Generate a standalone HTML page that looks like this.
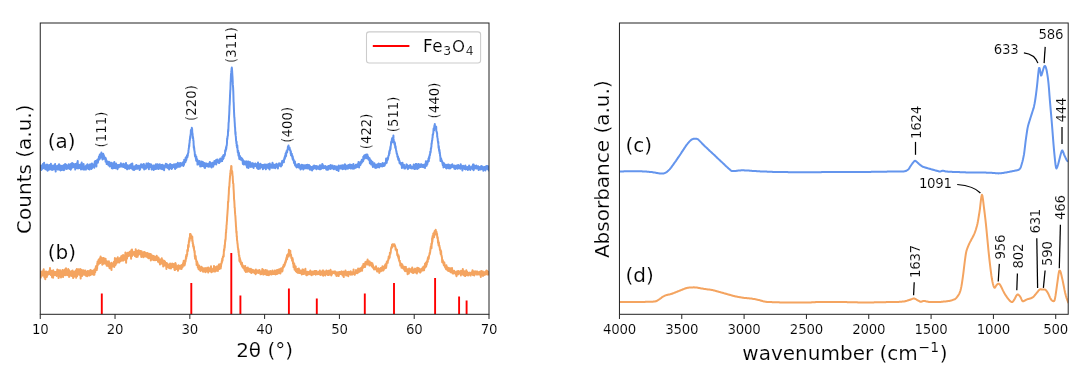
<!DOCTYPE html>
<html><head><meta charset="utf-8"><title>XRD and FTIR</title>
<style>html,body{margin:0;padding:0;background:#fff}svg{display:block}text{stroke:#fff;stroke-width:0.15px;fill:#000}</style></head>
<body>
<svg width="1084" height="371" viewBox="0 0 1084 371" font-family="DejaVu Sans, Liberation Sans, sans-serif">
<rect width="1084" height="371" fill="#fff"/>
<clipPath id="c1"><rect x="40.25" y="23.0" width="448.75" height="291.3"/></clipPath>
<clipPath id="c2"><rect x="619.45" y="23.0" width="448.75" height="291.3"/></clipPath>
<g clip-path="url(#c1)" fill="none" stroke-linejoin="round">
<path d="M40.2,167.3 L40.4,167.9 L40.5,166.8 L40.7,165.7 L40.8,166.5 L41.0,165.5 L41.1,167.5 L41.3,169.9 L41.4,166.5 L41.6,166.3 L41.7,168.3 L41.9,168.1 L42.0,167.6 L42.2,165.7 L42.3,167.4 L42.5,168.7 L42.6,165.0 L42.8,166.6 L42.9,164.0 L43.1,165.1 L43.2,164.1 L43.4,167.0 L43.5,165.1 L43.7,167.9 L43.8,167.7 L44.0,167.1 L44.1,162.8 L44.3,166.4 L44.4,167.3 L44.6,167.6 L44.7,164.6 L44.9,166.5 L45.0,165.6 L45.2,165.9 L45.3,169.3 L45.5,165.9 L45.6,167.3 L45.8,168.9 L45.9,166.2 L46.1,167.1 L46.2,167.5 L46.4,167.4 L46.5,165.0 L46.7,167.4 L46.8,169.7 L47.0,164.4 L47.1,168.8 L47.3,167.4 L47.4,166.0 L47.6,170.8 L47.7,168.6 L47.9,165.0 L48.0,167.3 L48.2,168.2 L48.3,166.8 L48.5,168.4 L48.6,167.0 L48.8,168.4 L48.9,169.7 L49.1,166.0 L49.2,167.5 L49.4,166.3 L49.5,167.4 L49.7,165.0 L49.8,166.1 L50.0,166.8 L50.1,168.8 L50.3,169.2 L50.4,164.8 L50.6,165.8 L50.7,168.4 L50.9,163.7 L51.0,166.4 L51.2,167.1 L51.3,169.5 L51.5,168.5 L51.6,166.7 L51.8,166.6 L51.9,166.8 L52.1,170.0 L52.2,166.6 L52.4,166.8 L52.5,168.0 L52.7,167.1 L52.8,167.0 L53.0,165.4 L53.1,167.4 L53.3,166.6 L53.4,169.5 L53.6,168.6 L53.7,167.4 L53.9,168.6 L54.0,166.9 L54.2,169.3 L54.3,167.5 L54.5,168.5 L54.6,165.3 L54.8,168.2 L54.9,164.6 L55.1,164.0 L55.2,167.1 L55.4,166.0 L55.5,167.9 L55.7,171.6 L55.8,166.2 L56.0,166.6 L56.1,168.0 L56.3,168.6 L56.4,167.4 L56.6,167.4 L56.7,169.0 L56.9,168.7 L57.0,166.0 L57.2,167.6 L57.3,167.9 L57.5,166.0 L57.6,168.3 L57.8,166.4 L57.9,169.6 L58.1,168.2 L58.2,168.1 L58.4,166.9 L58.5,167.7 L58.7,164.5 L58.8,166.0 L59.0,168.6 L59.1,164.3 L59.3,169.4 L59.4,165.0 L59.6,169.3 L59.7,166.6 L59.9,169.4 L60.0,168.2 L60.2,165.4 L60.3,170.2 L60.5,170.5 L60.6,167.9 L60.7,167.5 L60.9,167.7 L61.0,166.3 L61.2,169.9 L61.3,167.0 L61.5,167.9 L61.6,166.6 L61.8,166.8 L61.9,165.7 L62.1,170.0 L62.2,167.6 L62.4,169.5 L62.5,167.8 L62.7,166.6 L62.8,167.1 L63.0,166.7 L63.1,167.6 L63.3,167.0 L63.4,167.0 L63.6,165.2 L63.7,166.1 L63.9,170.2 L64.0,166.2 L64.2,165.5 L64.3,167.9 L64.5,169.6 L64.6,164.7 L64.8,166.8 L64.9,166.0 L65.1,164.1 L65.2,168.3 L65.4,166.9 L65.5,167.1 L65.7,165.6 L65.8,167.6 L66.0,165.9 L66.1,166.6 L66.3,164.9 L66.4,164.7 L66.6,169.0 L66.7,165.9 L66.9,167.2 L67.0,166.6 L67.2,165.9 L67.3,165.8 L67.5,167.7 L67.6,166.1 L67.8,166.4 L67.9,166.6 L68.1,168.6 L68.2,167.7 L68.4,167.2 L68.5,165.6 L68.7,164.3 L68.8,168.2 L69.0,168.2 L69.1,166.3 L69.3,167.5 L69.4,167.9 L69.6,168.0 L69.7,168.1 L69.9,165.8 L70.0,169.1 L70.2,164.5 L70.3,168.0 L70.5,167.4 L70.6,168.0 L70.8,169.7 L70.9,169.1 L71.1,164.7 L71.2,163.8 L71.4,167.9 L71.5,164.9 L71.7,166.6 L71.8,168.0 L72.0,163.8 L72.1,163.1 L72.3,167.0 L72.4,166.6 L72.6,166.1 L72.7,166.6 L72.9,165.1 L73.0,164.0 L73.2,166.2 L73.3,164.9 L73.5,163.8 L73.6,167.3 L73.8,166.3 L73.9,167.1 L74.1,164.8 L74.2,165.3 L74.4,164.8 L74.5,164.9 L74.7,166.7 L74.8,165.1 L75.0,166.9 L75.1,166.9 L75.3,169.6 L75.4,164.0 L75.6,167.8 L75.7,166.1 L75.9,166.3 L76.0,163.9 L76.2,165.5 L76.3,167.5 L76.5,166.1 L76.6,166.4 L76.8,165.8 L76.9,168.1 L77.1,166.2 L77.2,162.7 L77.4,165.1 L77.5,163.1 L77.7,161.0 L77.8,165.4 L78.0,168.4 L78.1,166.4 L78.3,164.4 L78.4,164.8 L78.6,168.1 L78.7,166.6 L78.9,166.4 L79.0,166.3 L79.2,166.4 L79.3,167.7 L79.5,167.3 L79.6,166.8 L79.8,164.7 L79.9,167.3 L80.1,165.4 L80.2,168.2 L80.4,164.4 L80.5,166.3 L80.7,166.5 L80.8,164.4 L81.0,169.4 L81.1,169.0 L81.2,165.9 L81.4,167.9 L81.5,167.3 L81.7,162.5 L81.8,167.1 L82.0,166.6 L82.1,166.9 L82.3,165.1 L82.4,166.4 L82.6,166.5 L82.7,168.8 L82.9,167.4 L83.0,166.9 L83.2,169.4 L83.3,166.0 L83.5,166.3 L83.6,164.1 L83.8,169.5 L83.9,168.5 L84.1,168.5 L84.2,168.1 L84.4,167.2 L84.5,167.4 L84.7,166.6 L84.8,166.7 L85.0,167.1 L85.1,169.4 L85.3,167.9 L85.4,166.9 L85.6,166.1 L85.7,166.0 L85.9,169.6 L86.0,167.8 L86.2,167.1 L86.3,166.4 L86.5,165.2 L86.6,166.8 L86.8,168.3 L86.9,166.3 L87.1,166.5 L87.2,166.5 L87.4,167.0 L87.5,164.3 L87.7,166.4 L87.8,165.4 L88.0,168.1 L88.1,165.5 L88.3,167.5 L88.4,169.0 L88.6,166.1 L88.7,165.6 L88.9,166.8 L89.0,166.5 L89.2,164.9 L89.3,167.1 L89.5,169.5 L89.6,165.9 L89.8,166.0 L89.9,164.6 L90.1,166.7 L90.2,164.2 L90.4,164.4 L90.5,168.1 L90.7,164.6 L90.8,167.7 L91.0,168.4 L91.1,166.3 L91.3,166.8 L91.4,168.9 L91.6,165.5 L91.7,164.9 L91.9,163.6 L92.0,165.8 L92.2,168.0 L92.3,167.1 L92.5,164.1 L92.6,164.2 L92.8,164.7 L92.9,165.9 L93.1,165.1 L93.2,165.7 L93.4,165.7 L93.5,164.7 L93.7,165.1 L93.8,165.4 L94.0,164.9 L94.1,165.7 L94.3,167.7 L94.4,165.7 L94.6,164.7 L94.7,161.9 L94.9,165.0 L95.0,161.3 L95.2,162.0 L95.3,165.4 L95.5,165.0 L95.6,163.6 L95.8,161.0 L95.9,162.9 L96.1,162.3 L96.2,164.1 L96.4,166.4 L96.5,163.1 L96.7,161.4 L96.8,160.5 L97.0,162.0 L97.1,161.6 L97.3,159.9 L97.4,161.6 L97.6,159.4 L97.7,162.7 L97.9,162.3 L98.0,162.1 L98.2,159.5 L98.3,160.7 L98.5,159.4 L98.6,158.8 L98.8,158.6 L98.9,156.8 L99.1,156.3 L99.2,159.5 L99.4,157.7 L99.5,158.1 L99.7,159.0 L99.8,154.6 L100.0,155.8 L100.1,157.0 L100.3,157.2 L100.4,155.8 L100.6,157.7 L100.7,156.3 L100.9,154.0 L101.0,154.3 L101.2,156.8 L101.3,156.2 L101.4,152.5 L101.6,157.4 L101.7,156.3 L101.9,157.4 L102.0,154.8 L102.2,155.0 L102.3,153.8 L102.5,159.4 L102.6,155.4 L102.8,158.2 L102.9,155.0 L103.1,156.4 L103.2,153.8 L103.4,156.0 L103.5,158.2 L103.7,155.1 L103.8,158.8 L104.0,157.9 L104.1,156.1 L104.3,157.2 L104.4,157.5 L104.6,158.4 L104.7,157.9 L104.9,157.7 L105.0,158.8 L105.2,157.9 L105.3,157.8 L105.5,159.9 L105.6,161.6 L105.8,158.2 L105.9,160.7 L106.1,160.0 L106.2,159.8 L106.4,162.7 L106.5,160.9 L106.7,164.1 L106.8,160.9 L107.0,162.9 L107.1,162.1 L107.3,161.5 L107.4,163.7 L107.6,162.8 L107.7,164.1 L107.9,163.3 L108.0,161.9 L108.2,163.5 L108.3,163.9 L108.5,165.3 L108.6,162.7 L108.8,164.1 L108.9,161.7 L109.1,165.3 L109.2,162.8 L109.4,161.9 L109.5,164.5 L109.7,166.4 L109.8,162.5 L110.0,163.2 L110.1,163.8 L110.3,163.3 L110.4,165.6 L110.6,163.9 L110.7,164.1 L110.9,166.1 L111.0,164.1 L111.2,165.9 L111.3,163.9 L111.5,163.6 L111.6,162.7 L111.8,168.2 L111.9,165.0 L112.1,165.9 L112.2,165.5 L112.4,165.8 L112.5,165.7 L112.7,168.5 L112.8,164.2 L113.0,163.4 L113.1,164.3 L113.3,163.8 L113.4,166.9 L113.6,167.1 L113.7,164.5 L113.9,163.9 L114.0,165.4 L114.2,168.0 L114.3,161.9 L114.5,166.8 L114.6,164.5 L114.8,167.6 L114.9,164.6 L115.1,165.8 L115.2,164.0 L115.4,164.8 L115.5,168.3 L115.7,167.5 L115.8,165.7 L116.0,165.1 L116.1,163.6 L116.3,165.8 L116.4,166.4 L116.6,166.3 L116.7,166.3 L116.9,164.8 L117.0,166.4 L117.2,166.5 L117.3,168.4 L117.5,169.3 L117.6,166.3 L117.8,165.4 L117.9,166.5 L118.1,165.7 L118.2,165.5 L118.4,166.5 L118.5,165.0 L118.7,167.4 L118.8,166.4 L119.0,166.9 L119.1,166.3 L119.3,165.5 L119.4,165.1 L119.6,166.1 L119.7,165.7 L119.9,166.8 L120.0,166.4 L120.2,164.4 L120.3,166.5 L120.5,164.4 L120.6,165.5 L120.8,165.9 L120.9,163.3 L121.1,166.4 L121.2,166.5 L121.4,166.1 L121.5,165.7 L121.7,165.7 L121.8,164.8 L121.9,165.8 L122.1,165.4 L122.2,166.3 L122.4,164.5 L122.5,166.5 L122.7,166.4 L122.8,166.0 L123.0,165.6 L123.1,167.0 L123.3,163.8 L123.4,166.9 L123.6,166.6 L123.7,166.7 L123.9,166.8 L124.0,165.3 L124.2,165.9 L124.3,167.2 L124.5,166.9 L124.6,166.7 L124.8,164.2 L124.9,167.2 L125.1,168.1 L125.2,167.9 L125.4,166.8 L125.5,164.3 L125.7,167.9 L125.8,166.4 L126.0,163.0 L126.1,167.2 L126.3,164.5 L126.4,164.8 L126.6,165.8 L126.7,168.6 L126.9,166.3 L127.0,167.2 L127.2,169.3 L127.3,169.1 L127.5,166.7 L127.6,166.6 L127.8,165.2 L127.9,166.0 L128.1,167.6 L128.2,167.6 L128.4,167.2 L128.5,168.5 L128.7,166.0 L128.8,167.0 L129.0,168.2 L129.1,168.0 L129.3,168.7 L129.4,167.7 L129.6,166.7 L129.7,167.7 L129.9,165.8 L130.0,164.9 L130.2,168.0 L130.3,167.2 L130.5,167.7 L130.6,164.8 L130.8,166.7 L130.9,166.4 L131.1,166.0 L131.2,164.1 L131.4,166.8 L131.5,168.5 L131.7,167.8 L131.8,166.4 L132.0,167.2 L132.1,168.3 L132.3,163.4 L132.4,167.1 L132.6,168.0 L132.7,168.2 L132.9,169.6 L133.0,168.8 L133.2,167.7 L133.3,167.7 L133.5,168.4 L133.6,166.5 L133.8,167.2 L133.9,168.5 L134.1,170.0 L134.2,167.0 L134.4,167.2 L134.5,167.5 L134.7,169.1 L134.8,167.2 L135.0,169.3 L135.1,165.9 L135.3,167.0 L135.4,167.0 L135.6,168.4 L135.7,168.7 L135.9,165.2 L136.0,166.0 L136.2,167.7 L136.3,166.4 L136.5,165.1 L136.6,168.7 L136.8,168.0 L136.9,167.9 L137.1,166.6 L137.2,168.7 L137.4,166.9 L137.5,168.7 L137.7,165.9 L137.8,166.0 L138.0,167.4 L138.1,166.1 L138.3,168.0 L138.4,167.4 L138.6,165.8 L138.7,167.1 L138.9,166.5 L139.0,168.2 L139.2,166.0 L139.3,166.3 L139.5,168.5 L139.6,169.9 L139.8,169.6 L139.9,166.8 L140.1,167.0 L140.2,168.8 L140.4,166.5 L140.5,165.2 L140.7,166.7 L140.8,167.1 L141.0,165.3 L141.1,164.2 L141.3,164.4 L141.4,167.3 L141.6,165.3 L141.7,166.1 L141.9,166.6 L142.0,167.1 L142.2,165.8 L142.3,166.9 L142.4,165.0 L142.6,165.7 L142.7,164.7 L142.9,167.7 L143.0,166.1 L143.2,165.1 L143.3,165.6 L143.5,165.8 L143.6,167.0 L143.8,163.9 L143.9,164.6 L144.1,165.5 L144.2,169.5 L144.4,167.4 L144.5,165.9 L144.7,167.0 L144.8,168.9 L145.0,165.7 L145.1,165.6 L145.3,167.7 L145.4,166.8 L145.6,167.0 L145.7,165.4 L145.9,168.8 L146.0,168.5 L146.2,166.9 L146.3,167.1 L146.5,163.4 L146.6,167.1 L146.8,165.9 L146.9,166.8 L147.1,167.2 L147.2,165.8 L147.4,163.9 L147.5,166.8 L147.7,165.3 L147.8,165.9 L148.0,165.5 L148.1,165.9 L148.3,163.2 L148.4,168.1 L148.6,166.8 L148.7,168.0 L148.9,169.2 L149.0,166.5 L149.2,164.0 L149.3,165.3 L149.5,164.9 L149.6,165.9 L149.8,166.7 L149.9,163.9 L150.1,167.1 L150.2,164.6 L150.4,167.1 L150.5,166.5 L150.7,166.3 L150.8,166.6 L151.0,166.0 L151.1,165.9 L151.3,164.5 L151.4,166.7 L151.6,169.3 L151.7,169.5 L151.9,168.6 L152.0,167.8 L152.2,165.9 L152.3,168.8 L152.5,166.8 L152.6,166.8 L152.8,166.5 L152.9,167.0 L153.1,166.3 L153.2,166.8 L153.4,165.4 L153.5,166.4 L153.7,170.0 L153.8,166.8 L154.0,166.6 L154.1,167.6 L154.3,167.9 L154.4,165.4 L154.6,166.6 L154.7,168.2 L154.9,167.3 L155.0,167.1 L155.2,169.0 L155.3,166.0 L155.5,167.0 L155.6,166.2 L155.8,168.9 L155.9,164.3 L156.1,166.0 L156.2,166.2 L156.4,167.8 L156.5,167.8 L156.7,168.8 L156.8,164.8 L157.0,167.9 L157.1,166.5 L157.3,166.0 L157.4,167.7 L157.6,165.7 L157.7,164.2 L157.9,166.4 L158.0,164.9 L158.2,166.1 L158.3,167.5 L158.5,167.4 L158.6,169.1 L158.8,166.7 L158.9,164.9 L159.1,166.0 L159.2,165.7 L159.4,165.3 L159.5,167.6 L159.7,166.1 L159.8,164.3 L160.0,167.9 L160.1,166.9 L160.3,167.5 L160.4,167.2 L160.6,167.9 L160.7,167.1 L160.9,168.7 L161.0,167.6 L161.2,167.6 L161.3,167.6 L161.5,165.1 L161.6,166.8 L161.8,166.7 L161.9,167.3 L162.1,165.2 L162.2,169.2 L162.4,167.2 L162.5,165.4 L162.6,164.7 L162.8,166.6 L162.9,166.9 L163.1,166.0 L163.2,167.1 L163.4,166.1 L163.5,167.7 L163.7,166.0 L163.8,166.8 L164.0,168.2 L164.1,170.3 L164.3,165.5 L164.4,166.2 L164.6,165.7 L164.7,167.8 L164.9,165.2 L165.0,166.1 L165.2,166.7 L165.3,165.4 L165.5,165.4 L165.6,166.0 L165.8,163.8 L165.9,164.7 L166.1,166.0 L166.2,166.7 L166.4,166.3 L166.5,164.1 L166.7,165.9 L166.8,167.5 L167.0,167.2 L167.1,166.3 L167.3,165.2 L167.4,167.2 L167.6,165.6 L167.7,164.8 L167.9,165.3 L168.0,168.2 L168.2,166.6 L168.3,167.8 L168.5,165.6 L168.6,167.5 L168.8,165.5 L168.9,166.0 L169.1,169.5 L169.2,167.2 L169.4,165.5 L169.5,166.1 L169.7,166.6 L169.8,167.8 L170.0,165.5 L170.1,163.9 L170.3,165.8 L170.4,166.2 L170.6,166.3 L170.7,167.9 L170.9,166.6 L171.0,167.2 L171.2,164.7 L171.3,167.3 L171.5,168.9 L171.6,167.2 L171.8,166.5 L171.9,166.3 L172.1,168.5 L172.2,164.9 L172.4,166.0 L172.5,166.7 L172.7,167.1 L172.8,165.5 L173.0,166.5 L173.1,165.7 L173.3,166.2 L173.4,165.9 L173.6,164.6 L173.7,166.0 L173.9,167.2 L174.0,164.8 L174.2,165.7 L174.3,166.9 L174.5,164.6 L174.6,166.2 L174.8,164.6 L174.9,167.4 L175.1,169.0 L175.2,168.6 L175.4,165.6 L175.5,166.9 L175.7,166.0 L175.8,166.0 L176.0,167.9 L176.1,164.1 L176.3,167.2 L176.4,165.7 L176.6,167.6 L176.7,166.0 L176.9,164.9 L177.0,166.1 L177.2,166.6 L177.3,165.7 L177.5,166.3 L177.6,164.9 L177.8,162.8 L177.9,166.7 L178.1,166.4 L178.2,165.7 L178.4,165.5 L178.5,166.7 L178.7,164.8 L178.8,164.4 L179.0,165.0 L179.1,166.8 L179.3,163.4 L179.4,166.7 L179.6,164.2 L179.7,163.6 L179.9,166.6 L180.0,164.8 L180.2,163.1 L180.3,164.3 L180.5,165.9 L180.6,166.2 L180.8,164.0 L180.9,165.0 L181.1,165.3 L181.2,163.5 L181.4,164.7 L181.5,164.1 L181.7,163.4 L181.8,163.4 L182.0,164.0 L182.1,163.9 L182.3,163.0 L182.4,163.1 L182.6,165.0 L182.7,163.7 L182.9,164.5 L183.0,164.8 L183.1,163.9 L183.3,166.0 L183.4,161.8 L183.6,163.8 L183.7,162.2 L183.9,164.9 L184.0,164.6 L184.2,159.7 L184.3,160.8 L184.5,162.8 L184.6,162.8 L184.8,162.6 L184.9,161.3 L185.1,161.8 L185.2,161.9 L185.4,160.7 L185.5,161.9 L185.7,157.4 L185.8,160.9 L186.0,158.5 L186.1,160.7 L186.3,158.9 L186.4,157.7 L186.6,158.9 L186.7,156.9 L186.9,156.5 L187.0,155.2 L187.2,156.7 L187.3,156.8 L187.5,157.0 L187.6,154.9 L187.8,155.8 L187.9,153.7 L188.1,152.9 L188.2,152.9 L188.4,152.7 L188.5,150.0 L188.7,149.2 L188.8,148.2 L189.0,147.5 L189.1,145.0 L189.3,146.3 L189.4,143.2 L189.6,143.0 L189.7,140.0 L189.9,140.1 L190.0,138.7 L190.2,136.3 L190.3,138.1 L190.5,134.7 L190.6,135.2 L190.8,133.1 L190.9,130.1 L191.1,129.8 L191.2,130.3 L191.4,129.5 L191.5,129.5 L191.7,129.3 L191.8,127.8 L192.0,130.5 L192.1,128.8 L192.3,133.1 L192.4,132.9 L192.6,134.2 L192.7,136.2 L192.9,138.2 L193.0,137.5 L193.2,138.5 L193.3,140.7 L193.5,140.8 L193.6,143.5 L193.8,148.0 L193.9,145.9 L194.1,149.2 L194.2,147.7 L194.4,150.8 L194.5,151.0 L194.7,152.2 L194.8,153.8 L195.0,156.1 L195.1,154.9 L195.3,155.5 L195.4,154.7 L195.6,157.3 L195.7,156.8 L195.9,158.7 L196.0,158.1 L196.2,160.8 L196.3,156.5 L196.5,159.0 L196.6,160.9 L196.8,159.7 L196.9,159.4 L197.1,160.4 L197.2,159.3 L197.4,161.4 L197.5,164.6 L197.7,163.2 L197.8,160.6 L198.0,161.1 L198.1,161.9 L198.3,163.8 L198.4,161.7 L198.6,162.0 L198.7,164.2 L198.9,164.3 L199.0,162.8 L199.2,162.0 L199.3,161.6 L199.5,162.7 L199.6,160.9 L199.8,164.7 L199.9,163.1 L200.1,164.6 L200.2,166.4 L200.4,165.6 L200.5,162.7 L200.7,165.3 L200.8,165.7 L201.0,163.3 L201.1,163.1 L201.3,164.2 L201.4,162.4 L201.6,166.3 L201.7,161.4 L201.9,163.1 L202.0,164.1 L202.2,164.2 L202.3,164.7 L202.5,164.9 L202.6,164.3 L202.8,166.0 L202.9,161.9 L203.1,164.6 L203.2,163.7 L203.4,164.8 L203.5,164.9 L203.6,163.5 L203.8,163.8 L203.9,165.7 L204.1,165.1 L204.2,163.8 L204.4,167.3 L204.5,167.6 L204.7,162.9 L204.8,165.1 L205.0,167.9 L205.1,165.8 L205.3,165.1 L205.4,164.6 L205.6,164.2 L205.7,164.6 L205.9,164.2 L206.0,165.9 L206.2,164.4 L206.3,164.4 L206.5,163.5 L206.6,164.9 L206.8,163.9 L206.9,164.8 L207.1,166.3 L207.2,165.5 L207.4,165.7 L207.5,165.5 L207.7,165.1 L207.8,164.9 L208.0,164.7 L208.1,166.0 L208.3,163.7 L208.4,166.7 L208.6,165.1 L208.7,164.1 L208.9,164.4 L209.0,164.2 L209.2,165.2 L209.3,164.1 L209.5,166.4 L209.6,163.9 L209.8,162.0 L209.9,163.9 L210.1,162.3 L210.2,164.7 L210.4,166.0 L210.5,165.5 L210.7,163.0 L210.8,163.6 L211.0,166.8 L211.1,164.9 L211.3,164.4 L211.4,165.7 L211.6,167.4 L211.7,165.9 L211.9,164.4 L212.0,164.6 L212.2,164.9 L212.3,163.3 L212.5,162.7 L212.6,164.0 L212.8,162.7 L212.9,163.7 L213.1,163.9 L213.2,166.6 L213.4,162.6 L213.5,163.4 L213.7,163.3 L213.8,164.0 L214.0,164.7 L214.1,162.7 L214.3,162.2 L214.4,161.1 L214.6,162.0 L214.7,163.7 L214.9,163.0 L215.0,161.7 L215.2,162.4 L215.3,162.8 L215.5,163.4 L215.6,162.0 L215.8,162.3 L215.9,160.3 L216.1,161.1 L216.2,164.5 L216.4,159.7 L216.5,161.9 L216.7,162.6 L216.8,161.8 L217.0,161.2 L217.1,162.1 L217.3,162.1 L217.4,161.9 L217.6,159.6 L217.7,161.7 L217.9,160.8 L218.0,161.1 L218.2,162.0 L218.3,162.5 L218.5,162.7 L218.6,160.9 L218.8,162.6 L218.9,162.9 L219.1,162.8 L219.2,163.0 L219.4,161.0 L219.5,160.9 L219.7,162.1 L219.8,159.3 L220.0,161.1 L220.1,160.1 L220.3,160.2 L220.4,158.4 L220.6,159.3 L220.7,160.3 L220.9,161.3 L221.0,161.3 L221.2,159.8 L221.3,159.6 L221.5,158.6 L221.6,160.0 L221.8,159.0 L221.9,159.9 L222.1,161.1 L222.2,158.7 L222.4,156.7 L222.5,157.3 L222.7,156.4 L222.8,156.5 L223.0,159.3 L223.1,157.7 L223.3,155.3 L223.4,157.7 L223.6,158.2 L223.7,155.8 L223.8,155.1 L224.0,155.2 L224.1,155.6 L224.3,155.7 L224.4,156.0 L224.6,155.6 L224.7,155.1 L224.9,154.9 L225.0,153.5 L225.2,150.3 L225.3,151.4 L225.5,151.4 L225.6,149.9 L225.8,150.8 L225.9,148.6 L226.1,147.1 L226.2,149.2 L226.4,147.4 L226.5,146.0 L226.7,145.9 L226.8,145.0 L227.0,143.0 L227.1,138.4 L227.3,139.4 L227.4,138.3 L227.6,136.2 L227.7,136.1 L227.9,135.7 L228.0,131.9 L228.2,129.2 L228.3,131.1 L228.5,125.9 L228.6,122.7 L228.8,122.0 L228.9,119.7 L229.1,115.6 L229.2,114.5 L229.4,109.9 L229.5,106.2 L229.7,104.3 L229.8,101.6 L230.0,96.4 L230.1,94.0 L230.3,89.9 L230.4,90.0 L230.6,82.2 L230.7,81.6 L230.9,76.8 L231.0,74.1 L231.2,72.9 L231.3,71.3 L231.5,70.5 L231.6,68.7 L231.8,67.6 L231.9,68.2 L232.1,70.6 L232.2,72.4 L232.4,75.5 L232.5,76.9 L232.7,80.7 L232.8,84.4 L233.0,86.1 L233.1,87.6 L233.3,91.5 L233.4,94.8 L233.6,102.0 L233.7,102.4 L233.9,108.3 L234.0,110.7 L234.2,115.1 L234.3,117.2 L234.5,118.6 L234.6,121.0 L234.8,123.8 L234.9,126.3 L235.1,127.6 L235.2,130.2 L235.4,134.1 L235.5,131.9 L235.7,135.9 L235.8,136.1 L236.0,138.9 L236.1,141.0 L236.3,141.2 L236.4,143.5 L236.6,141.7 L236.7,146.1 L236.9,145.0 L237.0,147.4 L237.2,147.8 L237.3,145.2 L237.5,148.2 L237.6,150.1 L237.8,152.5 L237.9,151.6 L238.1,152.2 L238.2,150.7 L238.4,154.7 L238.5,155.7 L238.7,154.0 L238.8,154.2 L239.0,152.9 L239.1,156.4 L239.3,159.0 L239.4,157.0 L239.6,158.0 L239.7,157.5 L239.9,155.9 L240.0,159.1 L240.2,156.3 L240.3,157.8 L240.5,158.7 L240.6,159.6 L240.8,159.3 L240.9,159.5 L241.1,158.4 L241.2,158.0 L241.4,159.8 L241.5,159.1 L241.7,158.6 L241.8,158.8 L242.0,160.0 L242.1,158.5 L242.3,159.3 L242.4,159.1 L242.6,161.5 L242.7,161.9 L242.9,164.0 L243.0,159.9 L243.2,161.0 L243.3,163.1 L243.5,161.9 L243.6,161.9 L243.8,164.5 L243.9,162.1 L244.1,161.3 L244.2,161.2 L244.3,163.3 L244.5,163.4 L244.6,161.5 L244.8,162.1 L244.9,164.0 L245.1,164.1 L245.2,162.8 L245.4,164.4 L245.5,164.4 L245.7,161.6 L245.8,163.5 L246.0,164.4 L246.1,163.3 L246.3,161.5 L246.4,163.8 L246.6,165.1 L246.7,166.1 L246.9,161.6 L247.0,167.5 L247.2,163.0 L247.3,165.6 L247.5,165.9 L247.6,165.6 L247.8,164.7 L247.9,163.1 L248.1,165.3 L248.2,163.7 L248.4,161.5 L248.5,168.0 L248.7,165.4 L248.8,166.8 L249.0,163.5 L249.1,166.4 L249.3,166.5 L249.4,166.5 L249.6,164.6 L249.7,163.2 L249.9,164.4 L250.0,162.0 L250.2,162.6 L250.3,164.8 L250.5,163.5 L250.6,164.5 L250.8,164.6 L250.9,167.0 L251.1,166.3 L251.2,164.7 L251.4,166.2 L251.5,163.8 L251.7,164.4 L251.8,165.9 L252.0,163.3 L252.1,164.5 L252.3,163.3 L252.4,165.0 L252.6,166.8 L252.7,164.0 L252.9,165.2 L253.0,163.9 L253.2,163.6 L253.3,163.5 L253.5,166.8 L253.6,167.9 L253.8,165.7 L253.9,164.3 L254.1,166.0 L254.2,164.8 L254.4,166.2 L254.5,165.6 L254.7,165.7 L254.8,166.1 L255.0,164.7 L255.1,164.9 L255.3,163.4 L255.4,165.0 L255.6,163.8 L255.7,165.4 L255.9,164.4 L256.0,165.7 L256.2,166.2 L256.3,164.0 L256.5,164.7 L256.6,164.6 L256.8,166.6 L256.9,167.8 L257.1,166.8 L257.2,165.4 L257.4,167.6 L257.5,164.0 L257.7,167.6 L257.8,165.1 L258.0,162.6 L258.1,169.1 L258.3,167.8 L258.4,164.7 L258.6,166.1 L258.7,165.7 L258.9,166.1 L259.0,164.2 L259.2,165.1 L259.3,166.5 L259.5,166.2 L259.6,167.4 L259.8,166.1 L259.9,168.8 L260.1,165.1 L260.2,166.3 L260.4,163.7 L260.5,164.5 L260.7,167.6 L260.8,164.9 L261.0,166.6 L261.1,165.9 L261.3,164.8 L261.4,165.6 L261.6,165.4 L261.7,165.4 L261.9,166.9 L262.0,166.8 L262.2,165.3 L262.3,165.0 L262.5,166.4 L262.6,165.9 L262.8,167.3 L262.9,169.2 L263.1,167.1 L263.2,166.0 L263.4,165.9 L263.5,165.1 L263.7,165.0 L263.8,164.9 L264.0,165.6 L264.1,165.6 L264.3,167.0 L264.4,165.6 L264.6,165.9 L264.7,164.6 L264.8,168.0 L265.0,166.7 L265.1,168.2 L265.3,167.0 L265.4,167.8 L265.6,165.8 L265.7,166.9 L265.9,169.3 L266.0,164.6 L266.2,167.4 L266.3,168.0 L266.5,166.5 L266.6,166.9 L266.8,167.5 L266.9,165.2 L267.1,166.5 L267.2,164.9 L267.4,165.1 L267.5,165.2 L267.7,165.8 L267.8,166.1 L268.0,166.5 L268.1,164.2 L268.3,168.3 L268.4,167.3 L268.6,166.7 L268.7,165.4 L268.9,165.7 L269.0,166.5 L269.2,166.3 L269.3,163.8 L269.5,166.7 L269.6,169.4 L269.8,163.6 L269.9,167.0 L270.1,166.3 L270.2,165.7 L270.4,167.5 L270.5,164.4 L270.7,166.0 L270.8,167.6 L271.0,165.6 L271.1,165.3 L271.3,166.0 L271.4,165.3 L271.6,167.7 L271.7,164.8 L271.9,166.9 L272.0,164.4 L272.2,166.7 L272.3,165.8 L272.5,162.8 L272.6,165.9 L272.8,164.6 L272.9,165.4 L273.1,167.8 L273.2,164.5 L273.4,164.6 L273.5,167.7 L273.7,166.0 L273.8,167.8 L274.0,166.3 L274.1,164.8 L274.3,165.8 L274.4,167.4 L274.6,167.0 L274.7,165.9 L274.9,165.9 L275.0,165.7 L275.2,165.2 L275.3,168.2 L275.5,165.9 L275.6,164.5 L275.8,165.3 L275.9,166.8 L276.1,166.6 L276.2,165.7 L276.4,165.1 L276.5,165.9 L276.7,163.8 L276.8,164.3 L277.0,166.8 L277.1,165.3 L277.3,166.3 L277.4,167.3 L277.6,166.6 L277.7,165.8 L277.9,168.4 L278.0,166.6 L278.2,165.3 L278.3,166.6 L278.5,166.2 L278.6,164.7 L278.8,165.8 L278.9,165.5 L279.1,163.2 L279.2,165.4 L279.4,165.2 L279.5,165.0 L279.7,163.5 L279.8,165.0 L280.0,165.3 L280.1,165.4 L280.3,163.8 L280.4,165.9 L280.6,163.6 L280.7,164.7 L280.9,166.4 L281.0,163.9 L281.2,164.0 L281.3,165.8 L281.5,163.9 L281.6,163.8 L281.8,164.3 L281.9,165.1 L282.1,161.0 L282.2,162.4 L282.4,162.0 L282.5,161.7 L282.7,161.7 L282.8,161.5 L283.0,162.6 L283.1,160.9 L283.3,161.8 L283.4,161.8 L283.6,160.1 L283.7,160.8 L283.9,162.2 L284.0,160.3 L284.2,158.7 L284.3,159.0 L284.5,157.6 L284.6,158.5 L284.8,158.8 L284.9,156.3 L285.0,156.6 L285.2,157.7 L285.3,155.2 L285.5,155.6 L285.6,153.6 L285.8,153.3 L285.9,153.2 L286.1,155.9 L286.2,152.3 L286.4,151.7 L286.5,151.2 L286.7,151.1 L286.8,151.6 L287.0,150.7 L287.1,152.4 L287.3,149.9 L287.4,151.0 L287.6,149.3 L287.7,149.4 L287.9,146.7 L288.0,148.1 L288.2,148.0 L288.3,147.7 L288.5,145.4 L288.6,148.9 L288.8,147.5 L288.9,147.5 L289.1,147.9 L289.2,148.1 L289.4,149.1 L289.5,147.4 L289.7,148.2 L289.8,149.9 L290.0,150.2 L290.1,150.0 L290.3,150.2 L290.4,150.3 L290.6,151.7 L290.7,153.7 L290.9,151.5 L291.0,155.1 L291.2,154.8 L291.3,153.8 L291.5,155.7 L291.6,153.6 L291.8,153.8 L291.9,154.8 L292.1,156.3 L292.2,156.9 L292.4,157.2 L292.5,158.3 L292.7,156.2 L292.8,159.7 L293.0,157.9 L293.1,159.2 L293.3,159.9 L293.4,159.4 L293.6,159.5 L293.7,160.3 L293.9,161.8 L294.0,162.8 L294.2,163.1 L294.3,161.6 L294.5,162.1 L294.6,162.2 L294.8,164.0 L294.9,161.4 L295.1,165.4 L295.2,163.6 L295.4,163.5 L295.5,165.0 L295.7,166.0 L295.8,165.3 L296.0,166.3 L296.1,165.4 L296.3,166.8 L296.4,167.0 L296.6,165.5 L296.7,167.4 L296.9,166.0 L297.0,166.1 L297.2,165.0 L297.3,165.8 L297.5,167.1 L297.6,164.8 L297.8,167.1 L297.9,166.8 L298.1,166.8 L298.2,164.0 L298.4,166.5 L298.5,167.4 L298.7,165.8 L298.8,166.8 L299.0,164.0 L299.1,167.5 L299.3,166.0 L299.4,167.8 L299.6,164.7 L299.7,167.6 L299.9,166.6 L300.0,167.8 L300.2,165.8 L300.3,166.1 L300.5,169.5 L300.6,165.9 L300.8,166.0 L300.9,166.5 L301.1,165.7 L301.2,168.2 L301.4,168.8 L301.5,166.0 L301.7,164.8 L301.8,168.2 L302.0,168.1 L302.1,167.7 L302.3,168.1 L302.4,165.8 L302.6,166.6 L302.7,165.2 L302.9,165.1 L303.0,167.9 L303.2,166.0 L303.3,169.4 L303.5,166.8 L303.6,166.0 L303.8,167.7 L303.9,168.8 L304.1,167.3 L304.2,165.3 L304.4,167.2 L304.5,168.3 L304.7,166.2 L304.8,165.9 L305.0,168.0 L305.1,167.0 L305.3,165.5 L305.4,166.4 L305.5,166.0 L305.7,167.2 L305.8,167.0 L306.0,168.2 L306.1,167.8 L306.3,165.1 L306.4,167.5 L306.6,168.1 L306.7,167.6 L306.9,168.3 L307.0,166.5 L307.2,166.0 L307.3,168.2 L307.5,166.0 L307.6,164.7 L307.8,168.5 L307.9,166.5 L308.1,167.0 L308.2,165.7 L308.4,165.9 L308.5,166.1 L308.7,167.0 L308.8,167.9 L309.0,164.9 L309.1,168.4 L309.3,166.2 L309.4,166.4 L309.6,168.4 L309.7,167.6 L309.9,165.9 L310.0,169.8 L310.2,166.7 L310.3,168.0 L310.5,168.0 L310.6,169.4 L310.8,167.3 L310.9,169.0 L311.1,167.0 L311.2,169.1 L311.4,167.0 L311.5,167.4 L311.7,170.0 L311.8,168.2 L312.0,168.0 L312.1,170.5 L312.3,168.3 L312.4,166.9 L312.6,168.7 L312.7,166.5 L312.9,169.2 L313.0,169.2 L313.2,167.2 L313.3,167.1 L313.5,168.0 L313.6,167.8 L313.8,166.7 L313.9,168.4 L314.1,165.4 L314.2,167.2 L314.4,167.3 L314.5,167.4 L314.7,168.0 L314.8,166.2 L315.0,168.3 L315.1,167.4 L315.3,166.8 L315.4,166.0 L315.6,166.2 L315.7,167.9 L315.9,166.4 L316.0,167.6 L316.2,168.7 L316.3,168.6 L316.5,169.2 L316.6,167.0 L316.8,166.1 L316.9,168.5 L317.1,167.7 L317.2,168.6 L317.4,167.3 L317.5,168.6 L317.7,168.2 L317.8,168.0 L318.0,167.7 L318.1,167.6 L318.3,167.4 L318.4,167.3 L318.6,168.2 L318.7,166.4 L318.9,169.0 L319.0,166.8 L319.2,168.1 L319.3,166.8 L319.5,166.6 L319.6,169.2 L319.8,166.5 L319.9,165.3 L320.1,165.9 L320.2,166.4 L320.4,169.2 L320.5,166.9 L320.7,167.8 L320.8,165.5 L321.0,167.1 L321.1,167.4 L321.3,168.7 L321.4,165.8 L321.6,167.3 L321.7,167.0 L321.9,165.4 L322.0,166.6 L322.2,166.3 L322.3,163.9 L322.5,167.3 L322.6,167.2 L322.8,166.1 L322.9,165.1 L323.1,168.3 L323.2,167.0 L323.4,167.8 L323.5,168.3 L323.7,166.1 L323.8,167.7 L324.0,166.5 L324.1,166.7 L324.3,166.7 L324.4,166.8 L324.6,168.1 L324.7,167.0 L324.9,166.7 L325.0,166.6 L325.2,167.3 L325.3,165.9 L325.5,166.4 L325.6,167.0 L325.8,166.4 L325.9,166.9 L326.0,166.4 L326.2,169.4 L326.3,168.7 L326.5,167.7 L326.6,167.1 L326.8,169.7 L326.9,167.6 L327.1,167.1 L327.2,167.6 L327.4,167.6 L327.5,168.9 L327.7,167.3 L327.8,169.7 L328.0,166.3 L328.1,168.1 L328.3,166.2 L328.4,169.4 L328.6,167.0 L328.7,167.3 L328.9,168.4 L329.0,168.8 L329.2,166.1 L329.3,166.9 L329.5,165.7 L329.6,167.5 L329.8,167.2 L329.9,166.9 L330.1,166.5 L330.2,166.9 L330.4,166.5 L330.5,167.9 L330.7,169.0 L330.8,165.1 L331.0,167.2 L331.1,166.8 L331.3,167.9 L331.4,166.2 L331.6,167.1 L331.7,166.1 L331.9,168.1 L332.0,167.4 L332.2,167.2 L332.3,167.8 L332.5,167.1 L332.6,165.6 L332.8,168.1 L332.9,167.7 L333.1,167.3 L333.2,168.6 L333.4,168.9 L333.5,166.2 L333.7,166.6 L333.8,169.3 L334.0,169.2 L334.1,166.7 L334.3,166.3 L334.4,166.9 L334.6,167.1 L334.7,165.9 L334.9,167.7 L335.0,166.3 L335.2,166.4 L335.3,168.8 L335.5,167.0 L335.6,167.7 L335.8,168.6 L335.9,168.8 L336.1,167.5 L336.2,167.9 L336.4,166.9 L336.5,169.9 L336.7,168.6 L336.8,166.6 L337.0,167.9 L337.1,168.7 L337.3,168.5 L337.4,170.0 L337.6,169.5 L337.7,167.3 L337.9,167.8 L338.0,166.4 L338.2,168.2 L338.3,168.0 L338.5,171.0 L338.6,168.0 L338.8,165.4 L338.9,167.0 L339.1,167.9 L339.2,166.3 L339.4,166.8 L339.5,167.3 L339.7,168.1 L339.8,167.5 L340.0,166.6 L340.1,168.5 L340.3,167.0 L340.4,167.0 L340.6,166.0 L340.7,166.6 L340.9,168.3 L341.0,165.6 L341.2,167.4 L341.3,168.3 L341.5,167.0 L341.6,167.7 L341.8,166.1 L341.9,168.8 L342.1,168.6 L342.2,167.6 L342.4,165.3 L342.5,166.1 L342.7,168.4 L342.8,169.2 L343.0,167.5 L343.1,168.6 L343.3,166.5 L343.4,166.9 L343.6,167.1 L343.7,167.6 L343.9,165.3 L344.0,168.1 L344.2,168.6 L344.3,165.7 L344.5,165.5 L344.6,167.4 L344.8,166.2 L344.9,164.2 L345.1,167.9 L345.2,167.1 L345.4,166.4 L345.5,169.3 L345.7,167.0 L345.8,166.0 L346.0,166.9 L346.1,165.6 L346.2,165.9 L346.4,167.2 L346.5,166.1 L346.7,166.2 L346.8,168.6 L347.0,167.7 L347.1,167.6 L347.3,167.3 L347.4,167.2 L347.6,168.3 L347.7,166.6 L347.9,168.7 L348.0,165.5 L348.2,166.2 L348.3,164.9 L348.5,166.1 L348.6,167.1 L348.8,168.1 L348.9,165.7 L349.1,166.4 L349.2,166.0 L349.4,165.5 L349.5,165.0 L349.7,166.4 L349.8,164.4 L350.0,166.5 L350.1,166.4 L350.3,165.6 L350.4,165.2 L350.6,164.7 L350.7,168.4 L350.9,164.8 L351.0,168.1 L351.2,167.0 L351.3,165.9 L351.5,165.0 L351.6,167.5 L351.8,168.3 L351.9,165.3 L352.1,166.0 L352.2,167.5 L352.4,166.7 L352.5,168.6 L352.7,165.7 L352.8,167.0 L353.0,165.0 L353.1,168.8 L353.3,165.6 L353.4,163.9 L353.6,166.3 L353.7,166.3 L353.9,168.6 L354.0,166.1 L354.2,166.4 L354.3,167.1 L354.5,168.3 L354.6,166.4 L354.8,167.6 L354.9,167.0 L355.1,166.1 L355.2,166.5 L355.4,166.4 L355.5,165.4 L355.7,167.8 L355.8,164.8 L356.0,167.6 L356.1,167.4 L356.3,166.1 L356.4,165.3 L356.6,165.9 L356.7,166.6 L356.9,166.9 L357.0,166.3 L357.2,167.1 L357.3,165.2 L357.5,166.1 L357.6,163.9 L357.8,166.5 L357.9,165.7 L358.1,165.0 L358.2,166.7 L358.4,166.0 L358.5,161.9 L358.7,165.0 L358.8,163.2 L359.0,166.0 L359.1,167.5 L359.3,163.9 L359.4,164.4 L359.6,163.9 L359.7,164.4 L359.9,164.6 L360.0,165.2 L360.2,162.4 L360.3,165.1 L360.5,162.1 L360.6,163.3 L360.8,164.1 L360.9,163.4 L361.1,161.3 L361.2,161.4 L361.4,161.4 L361.5,161.7 L361.7,162.8 L361.8,159.8 L362.0,161.6 L362.1,161.5 L362.3,161.2 L362.4,160.8 L362.6,161.8 L362.7,160.4 L362.9,160.5 L363.0,160.0 L363.2,161.1 L363.3,156.7 L363.5,160.0 L363.6,158.1 L363.8,157.8 L363.9,156.8 L364.1,155.6 L364.2,157.0 L364.4,156.5 L364.5,157.6 L364.7,155.2 L364.8,158.4 L365.0,156.9 L365.1,156.2 L365.3,155.5 L365.4,155.3 L365.6,154.9 L365.7,155.5 L365.9,156.0 L366.0,155.8 L366.2,154.4 L366.3,155.7 L366.5,155.0 L366.6,156.3 L366.7,158.3 L366.9,157.0 L367.0,156.0 L367.2,154.6 L367.3,155.0 L367.5,154.9 L367.6,157.8 L367.8,156.3 L367.9,157.4 L368.1,156.8 L368.2,157.8 L368.4,159.5 L368.5,157.4 L368.7,158.0 L368.8,157.7 L369.0,159.9 L369.1,158.0 L369.3,158.1 L369.4,158.1 L369.6,158.3 L369.7,160.7 L369.9,163.3 L370.0,159.5 L370.2,162.0 L370.3,161.5 L370.5,160.2 L370.6,161.3 L370.8,161.6 L370.9,161.3 L371.1,164.5 L371.2,160.4 L371.4,163.2 L371.5,163.4 L371.7,162.5 L371.8,163.6 L372.0,164.6 L372.1,163.9 L372.3,164.4 L372.4,164.9 L372.6,162.0 L372.7,166.1 L372.9,167.1 L373.0,165.8 L373.2,165.9 L373.3,163.3 L373.5,164.9 L373.6,164.2 L373.8,164.6 L373.9,166.4 L374.1,164.5 L374.2,165.3 L374.4,163.3 L374.5,165.4 L374.7,165.7 L374.8,164.8 L375.0,164.9 L375.1,167.8 L375.3,164.4 L375.4,164.5 L375.6,164.8 L375.7,167.1 L375.9,168.1 L376.0,166.1 L376.2,164.9 L376.3,165.2 L376.5,166.9 L376.6,164.7 L376.8,167.3 L376.9,167.3 L377.1,165.7 L377.2,166.3 L377.4,166.4 L377.5,167.3 L377.7,164.3 L377.8,166.8 L378.0,165.0 L378.1,164.6 L378.3,165.5 L378.4,165.1 L378.6,164.2 L378.7,163.5 L378.9,164.2 L379.0,166.9 L379.2,167.5 L379.3,166.0 L379.5,166.6 L379.6,164.6 L379.8,165.1 L379.9,165.5 L380.1,163.9 L380.2,164.0 L380.4,165.2 L380.5,164.8 L380.7,163.9 L380.8,165.5 L381.0,164.8 L381.1,166.2 L381.3,165.1 L381.4,164.7 L381.6,165.2 L381.7,164.9 L381.9,164.3 L382.0,164.6 L382.2,165.9 L382.3,165.7 L382.5,166.4 L382.6,163.1 L382.8,164.5 L382.9,164.5 L383.1,165.1 L383.2,164.4 L383.4,164.2 L383.5,165.7 L383.7,164.9 L383.8,163.4 L384.0,166.1 L384.1,165.7 L384.3,163.8 L384.4,165.3 L384.6,163.5 L384.7,165.5 L384.9,163.8 L385.0,163.0 L385.2,163.4 L385.3,162.8 L385.5,163.7 L385.6,163.5 L385.8,163.2 L385.9,162.3 L386.1,158.6 L386.2,162.6 L386.4,160.0 L386.5,162.2 L386.7,162.9 L386.8,161.6 L387.0,160.5 L387.1,160.4 L387.2,160.0 L387.4,159.2 L387.5,158.7 L387.7,157.8 L387.8,159.7 L388.0,157.9 L388.1,158.5 L388.3,156.5 L388.4,156.3 L388.6,155.5 L388.7,155.6 L388.9,155.3 L389.0,154.0 L389.2,152.3 L389.3,151.5 L389.5,153.5 L389.6,150.6 L389.8,149.9 L389.9,151.1 L390.1,149.9 L390.2,148.6 L390.4,146.8 L390.5,149.1 L390.7,146.2 L390.8,145.6 L391.0,144.1 L391.1,142.0 L391.3,141.5 L391.4,142.8 L391.6,142.2 L391.7,141.0 L391.9,139.4 L392.0,138.7 L392.2,139.6 L392.3,138.0 L392.5,140.4 L392.6,140.5 L392.8,142.3 L392.9,140.0 L393.1,138.4 L393.2,138.2 L393.4,135.5 L393.5,138.9 L393.7,139.7 L393.8,141.4 L394.0,141.4 L394.1,141.8 L394.3,141.9 L394.4,143.0 L394.6,144.5 L394.7,142.3 L394.9,143.6 L395.0,143.3 L395.2,147.3 L395.3,147.7 L395.5,147.8 L395.6,146.3 L395.8,148.6 L395.9,148.9 L396.1,150.0 L396.2,150.4 L396.4,151.9 L396.5,151.5 L396.7,153.6 L396.8,153.6 L397.0,153.7 L397.1,154.5 L397.3,154.7 L397.4,156.8 L397.6,156.1 L397.7,157.3 L397.9,157.1 L398.0,156.4 L398.2,159.5 L398.3,157.8 L398.5,160.2 L398.6,160.3 L398.8,158.4 L398.9,159.6 L399.1,160.5 L399.2,160.5 L399.4,160.4 L399.5,162.9 L399.7,162.1 L399.8,163.0 L400.0,162.4 L400.1,163.5 L400.3,162.5 L400.4,163.5 L400.6,164.4 L400.7,164.0 L400.9,163.6 L401.0,163.1 L401.2,164.7 L401.3,165.0 L401.5,164.5 L401.6,164.0 L401.8,165.6 L401.9,167.9 L402.1,164.9 L402.2,165.7 L402.4,165.9 L402.5,162.7 L402.7,165.8 L402.8,164.9 L403.0,167.4 L403.1,165.6 L403.3,165.1 L403.4,165.8 L403.6,166.3 L403.7,165.5 L403.9,166.1 L404.0,164.7 L404.2,166.0 L404.3,167.2 L404.5,168.6 L404.6,167.2 L404.8,166.8 L404.9,167.8 L405.1,167.7 L405.2,168.4 L405.4,167.8 L405.5,166.5 L405.7,167.0 L405.8,166.9 L406.0,167.1 L406.1,167.0 L406.3,165.9 L406.4,164.4 L406.6,166.1 L406.7,164.6 L406.9,167.0 L407.0,166.9 L407.2,165.0 L407.3,167.7 L407.4,167.9 L407.6,167.1 L407.7,168.9 L407.9,169.1 L408.0,165.7 L408.2,168.2 L408.3,167.6 L408.5,167.5 L408.6,168.1 L408.8,166.3 L408.9,166.4 L409.1,166.2 L409.2,166.3 L409.4,167.0 L409.5,165.5 L409.7,166.0 L409.8,167.8 L410.0,167.1 L410.1,167.6 L410.3,165.0 L410.4,166.3 L410.6,166.5 L410.7,167.2 L410.9,166.5 L411.0,168.2 L411.2,167.1 L411.3,167.2 L411.5,167.1 L411.6,167.9 L411.8,166.6 L411.9,168.4 L412.1,167.6 L412.2,167.2 L412.4,167.1 L412.5,167.6 L412.7,168.2 L412.8,168.1 L413.0,167.4 L413.1,168.0 L413.3,167.1 L413.4,168.3 L413.6,166.9 L413.7,164.6 L413.9,168.4 L414.0,167.0 L414.2,165.5 L414.3,166.6 L414.5,165.8 L414.6,169.1 L414.8,167.3 L414.9,164.9 L415.1,167.3 L415.2,166.2 L415.4,168.8 L415.5,165.4 L415.7,164.1 L415.8,166.6 L416.0,166.1 L416.1,166.0 L416.3,164.1 L416.4,166.9 L416.6,168.3 L416.7,164.2 L416.9,167.7 L417.0,165.7 L417.2,168.9 L417.3,166.8 L417.5,166.0 L417.6,167.5 L417.8,166.8 L417.9,165.5 L418.1,166.9 L418.2,165.5 L418.4,164.1 L418.5,168.3 L418.7,165.7 L418.8,165.3 L419.0,166.4 L419.1,164.2 L419.3,164.4 L419.4,165.4 L419.6,165.3 L419.7,166.0 L419.9,167.1 L420.0,165.3 L420.2,166.4 L420.3,166.5 L420.5,164.6 L420.6,166.1 L420.8,164.7 L420.9,167.0 L421.1,166.3 L421.2,165.8 L421.4,164.2 L421.5,165.9 L421.7,164.9 L421.8,166.5 L422.0,165.6 L422.1,164.8 L422.3,166.7 L422.4,166.5 L422.6,165.0 L422.7,167.0 L422.9,165.3 L423.0,165.3 L423.2,165.7 L423.3,164.8 L423.5,165.1 L423.6,165.4 L423.8,167.2 L423.9,167.2 L424.1,165.2 L424.2,167.2 L424.4,165.3 L424.5,165.8 L424.7,166.3 L424.8,165.6 L425.0,167.9 L425.1,165.4 L425.3,163.7 L425.4,166.4 L425.6,164.4 L425.7,164.4 L425.9,161.3 L426.0,165.7 L426.2,165.3 L426.3,165.2 L426.5,165.2 L426.6,165.8 L426.8,163.7 L426.9,164.6 L427.1,162.5 L427.2,162.8 L427.4,164.1 L427.5,163.1 L427.7,160.9 L427.8,162.5 L427.9,161.5 L428.1,160.5 L428.2,161.5 L428.4,160.2 L428.5,158.4 L428.7,158.5 L428.8,161.2 L429.0,157.0 L429.1,158.4 L429.3,158.3 L429.4,157.7 L429.6,155.0 L429.7,155.3 L429.9,155.1 L430.0,155.1 L430.2,152.7 L430.3,151.4 L430.5,152.9 L430.6,152.2 L430.8,150.4 L430.9,148.4 L431.1,148.6 L431.2,147.2 L431.4,147.0 L431.5,143.6 L431.7,144.1 L431.8,142.7 L432.0,140.5 L432.1,140.9 L432.3,139.6 L432.4,138.0 L432.6,137.8 L432.7,134.6 L432.9,135.1 L433.0,134.6 L433.2,133.3 L433.3,133.2 L433.5,129.7 L433.6,128.5 L433.8,129.6 L433.9,129.0 L434.1,130.2 L434.2,127.9 L434.4,125.7 L434.5,127.1 L434.7,124.9 L434.8,124.0 L435.0,128.4 L435.1,125.8 L435.3,126.4 L435.4,126.4 L435.6,128.1 L435.7,126.8 L435.9,128.4 L436.0,126.5 L436.2,126.8 L436.3,130.7 L436.5,131.6 L436.6,131.5 L436.8,132.1 L436.9,133.1 L437.1,133.2 L437.2,136.8 L437.4,136.9 L437.5,137.9 L437.7,138.9 L437.8,140.9 L438.0,141.4 L438.1,142.9 L438.3,141.9 L438.4,144.9 L438.6,147.9 L438.7,146.0 L438.9,147.5 L439.0,149.7 L439.2,150.8 L439.3,151.4 L439.5,149.9 L439.6,153.2 L439.8,152.2 L439.9,153.4 L440.1,155.8 L440.2,155.6 L440.4,157.6 L440.5,160.9 L440.7,158.9 L440.8,159.5 L441.0,158.3 L441.1,159.1 L441.3,159.2 L441.4,160.3 L441.6,160.1 L441.7,161.0 L441.9,161.9 L442.0,161.4 L442.2,161.2 L442.3,161.6 L442.5,163.9 L442.6,163.8 L442.8,165.1 L442.9,165.3 L443.1,164.0 L443.2,165.3 L443.4,163.1 L443.5,167.4 L443.7,166.4 L443.8,164.9 L444.0,164.0 L444.1,165.8 L444.3,163.4 L444.4,164.7 L444.6,166.5 L444.7,165.8 L444.9,165.2 L445.0,166.9 L445.2,164.7 L445.3,166.3 L445.5,165.4 L445.6,165.1 L445.8,166.6 L445.9,165.0 L446.1,168.3 L446.2,165.5 L446.4,168.4 L446.5,165.0 L446.7,167.0 L446.8,165.0 L447.0,164.8 L447.1,166.5 L447.3,167.1 L447.4,165.0 L447.6,167.7 L447.7,165.6 L447.9,166.6 L448.0,166.9 L448.2,167.2 L448.3,164.5 L448.4,168.3 L448.6,167.2 L448.7,166.1 L448.9,165.4 L449.0,164.7 L449.2,165.1 L449.3,167.2 L449.5,166.3 L449.6,165.4 L449.8,166.1 L449.9,168.4 L450.1,166.3 L450.2,166.0 L450.4,168.2 L450.5,167.2 L450.7,166.7 L450.8,166.0 L451.0,165.0 L451.1,165.4 L451.3,166.2 L451.4,166.5 L451.6,167.1 L451.7,167.3 L451.9,167.0 L452.0,167.0 L452.2,165.6 L452.3,164.3 L452.5,166.1 L452.6,165.7 L452.8,166.0 L452.9,166.4 L453.1,165.4 L453.2,165.5 L453.4,166.6 L453.5,166.9 L453.7,166.0 L453.8,167.3 L454.0,166.5 L454.1,165.6 L454.3,166.8 L454.4,168.8 L454.6,166.0 L454.7,168.0 L454.9,168.3 L455.0,168.4 L455.2,165.8 L455.3,169.0 L455.5,166.9 L455.6,166.5 L455.8,166.5 L455.9,167.4 L456.1,166.8 L456.2,166.5 L456.4,168.2 L456.5,165.9 L456.7,165.6 L456.8,167.6 L457.0,167.5 L457.1,168.0 L457.3,165.5 L457.4,167.9 L457.6,167.3 L457.7,168.7 L457.9,165.4 L458.0,167.0 L458.2,166.5 L458.3,165.0 L458.5,166.0 L458.6,168.1 L458.8,166.3 L458.9,166.0 L459.1,167.8 L459.2,168.0 L459.4,168.0 L459.5,166.0 L459.7,166.8 L459.8,168.1 L460.0,166.2 L460.1,166.1 L460.3,167.9 L460.4,168.8 L460.6,165.8 L460.7,164.2 L460.9,165.5 L461.0,166.0 L461.2,167.0 L461.3,167.9 L461.5,167.1 L461.6,166.5 L461.8,167.4 L461.9,166.2 L462.1,167.3 L462.2,166.6 L462.4,170.4 L462.5,168.3 L462.7,166.5 L462.8,166.4 L463.0,167.0 L463.1,165.7 L463.3,166.7 L463.4,166.8 L463.6,168.6 L463.7,167.2 L463.9,166.8 L464.0,166.2 L464.2,166.4 L464.3,167.6 L464.5,167.5 L464.6,169.0 L464.8,167.1 L464.9,169.0 L465.1,168.1 L465.2,167.8 L465.4,165.6 L465.5,166.4 L465.7,168.7 L465.8,169.4 L466.0,168.1 L466.1,168.7 L466.3,167.5 L466.4,167.5 L466.6,167.2 L466.7,169.0 L466.9,168.3 L467.0,167.7 L467.2,167.6 L467.3,168.6 L467.5,168.3 L467.6,167.1 L467.8,169.9 L467.9,168.3 L468.1,168.0 L468.2,169.6 L468.4,169.1 L468.5,167.9 L468.6,168.6 L468.8,166.8 L468.9,167.3 L469.1,165.5 L469.2,169.3 L469.4,165.9 L469.5,168.7 L469.7,167.0 L469.8,166.9 L470.0,167.7 L470.1,168.2 L470.3,168.6 L470.4,169.9 L470.6,168.3 L470.7,168.8 L470.9,167.2 L471.0,168.6 L471.2,168.0 L471.3,167.3 L471.5,167.7 L471.6,167.7 L471.8,167.9 L471.9,168.1 L472.1,167.1 L472.2,166.8 L472.4,168.4 L472.5,165.7 L472.7,166.9 L472.8,169.2 L473.0,164.5 L473.1,166.7 L473.3,168.2 L473.4,165.6 L473.6,170.3 L473.7,164.5 L473.9,168.9 L474.0,169.1 L474.2,168.3 L474.3,167.0 L474.5,167.7 L474.6,166.3 L474.8,168.1 L474.9,166.0 L475.1,166.9 L475.2,168.3 L475.4,166.0 L475.5,166.8 L475.7,167.4 L475.8,165.7 L476.0,168.5 L476.1,167.6 L476.3,165.5 L476.4,167.2 L476.6,166.4 L476.7,166.5 L476.9,167.3 L477.0,166.5 L477.2,168.4 L477.3,166.5 L477.5,168.4 L477.6,167.3 L477.8,168.4 L477.9,166.8 L478.1,166.9 L478.2,166.2 L478.4,168.2 L478.5,168.6 L478.7,170.0 L478.8,169.1 L479.0,167.9 L479.1,167.5 L479.3,168.2 L479.4,167.8 L479.6,169.4 L479.7,168.9 L479.9,167.0 L480.0,167.2 L480.2,169.5 L480.3,168.3 L480.5,167.8 L480.6,169.4 L480.8,167.7 L480.9,167.8 L481.1,167.7 L481.2,166.0 L481.4,169.2 L481.5,166.9 L481.7,167.7 L481.8,167.5 L482.0,169.1 L482.1,168.3 L482.3,168.4 L482.4,166.5 L482.6,168.3 L482.7,166.8 L482.9,168.8 L483.0,168.9 L483.2,168.5 L483.3,170.7 L483.5,169.1 L483.6,169.2 L483.8,168.7 L483.9,168.3 L484.1,169.6 L484.2,169.7 L484.4,167.1 L484.5,169.7 L484.7,169.1 L484.8,169.6 L485.0,169.0 L485.1,167.1 L485.3,167.2 L485.4,170.5 L485.6,168.7 L485.7,166.9 L485.9,168.8 L486.0,168.0 L486.2,166.4 L486.3,165.9 L486.5,166.6 L486.6,168.7 L486.8,168.3 L486.9,168.1 L487.1,168.7 L487.2,169.0 L487.4,166.0 L487.5,168.0 L487.7,167.4 L487.8,166.9 L488.0,167.6 L488.1,168.1 L488.3,167.9 L488.4,166.6 L488.6,167.6 L488.7,170.4 L488.9,167.0 L489.0,166.3" stroke="#6495ed" stroke-width="2.0"/>
<path d="M40.2,275.2 L40.4,272.0 L40.5,274.4 L40.7,273.0 L40.8,277.6 L41.0,273.6 L41.1,271.5 L41.3,271.7 L41.4,272.1 L41.6,274.1 L41.7,273.9 L41.9,275.8 L42.0,274.3 L42.2,274.2 L42.3,274.6 L42.5,273.7 L42.6,274.6 L42.8,275.6 L42.9,275.6 L43.1,273.0 L43.2,270.6 L43.4,272.5 L43.5,274.6 L43.7,269.2 L43.8,273.1 L44.0,274.9 L44.1,273.0 L44.3,271.9 L44.4,277.5 L44.6,276.8 L44.7,273.6 L44.9,276.6 L45.0,276.6 L45.2,271.8 L45.3,279.3 L45.5,272.2 L45.6,273.5 L45.8,271.9 L45.9,274.1 L46.1,271.4 L46.2,273.9 L46.4,276.0 L46.5,274.3 L46.7,273.4 L46.8,276.9 L47.0,272.1 L47.1,275.8 L47.3,273.3 L47.4,274.3 L47.6,273.9 L47.7,274.1 L47.9,273.7 L48.0,272.3 L48.2,272.7 L48.3,274.6 L48.5,273.5 L48.6,271.5 L48.8,272.4 L48.9,272.4 L49.1,273.6 L49.2,274.0 L49.4,273.9 L49.5,272.4 L49.7,273.7 L49.8,271.0 L50.0,268.1 L50.1,273.6 L50.3,270.5 L50.4,271.8 L50.6,271.3 L50.7,274.9 L50.9,271.3 L51.0,274.2 L51.2,272.8 L51.3,271.3 L51.5,270.7 L51.6,274.6 L51.8,274.5 L51.9,275.3 L52.1,277.3 L52.2,274.3 L52.4,274.3 L52.5,273.6 L52.7,274.0 L52.8,273.2 L53.0,272.1 L53.1,277.8 L53.3,270.3 L53.4,274.4 L53.6,274.8 L53.7,274.2 L53.9,272.1 L54.0,273.6 L54.2,273.1 L54.3,271.9 L54.5,273.9 L54.6,273.2 L54.8,272.9 L54.9,275.3 L55.1,271.9 L55.2,274.8 L55.4,272.8 L55.5,274.8 L55.7,274.1 L55.8,274.4 L56.0,272.0 L56.1,272.4 L56.3,272.2 L56.4,274.2 L56.6,275.3 L56.7,275.9 L56.9,272.9 L57.0,274.0 L57.2,270.7 L57.3,269.5 L57.5,272.1 L57.6,272.4 L57.8,270.7 L57.9,270.2 L58.1,274.7 L58.2,272.1 L58.4,270.3 L58.5,278.1 L58.7,273.9 L58.8,272.9 L59.0,274.8 L59.1,272.0 L59.3,276.5 L59.4,270.4 L59.6,270.9 L59.7,273.1 L59.9,271.9 L60.0,276.1 L60.2,270.2 L60.3,271.9 L60.5,273.7 L60.6,274.3 L60.7,275.2 L60.9,273.9 L61.0,277.5 L61.2,272.3 L61.3,273.5 L61.5,274.8 L61.6,272.5 L61.8,272.6 L61.9,272.2 L62.1,271.9 L62.2,270.9 L62.4,272.0 L62.5,270.1 L62.7,273.8 L62.8,270.0 L63.0,277.0 L63.1,276.3 L63.3,275.1 L63.4,272.6 L63.6,271.9 L63.7,275.3 L63.9,273.3 L64.0,274.0 L64.2,271.6 L64.3,275.0 L64.5,271.4 L64.6,273.1 L64.8,269.6 L64.9,271.7 L65.1,273.9 L65.2,272.1 L65.4,272.1 L65.5,274.5 L65.7,272.8 L65.8,275.3 L66.0,268.3 L66.1,274.1 L66.3,274.0 L66.4,270.0 L66.6,270.5 L66.7,274.7 L66.9,271.0 L67.0,271.8 L67.2,274.2 L67.3,272.4 L67.5,274.0 L67.6,271.5 L67.8,273.7 L67.9,275.2 L68.1,273.8 L68.2,269.0 L68.4,274.5 L68.5,273.4 L68.7,271.6 L68.8,276.0 L69.0,270.0 L69.1,277.0 L69.3,272.2 L69.4,276.4 L69.6,273.4 L69.7,270.9 L69.9,273.7 L70.0,274.2 L70.2,274.6 L70.3,275.6 L70.5,271.9 L70.6,274.5 L70.8,275.0 L70.9,273.1 L71.1,271.9 L71.2,271.8 L71.4,275.1 L71.5,275.2 L71.7,272.1 L71.8,271.2 L72.0,276.1 L72.1,270.8 L72.3,274.1 L72.4,272.2 L72.6,270.4 L72.7,274.0 L72.9,273.4 L73.0,276.5 L73.2,278.1 L73.3,273.4 L73.5,275.7 L73.6,275.7 L73.8,272.7 L73.9,272.0 L74.1,276.8 L74.2,273.0 L74.4,273.6 L74.5,273.1 L74.7,273.4 L74.8,272.4 L75.0,275.0 L75.1,275.9 L75.3,272.8 L75.4,270.9 L75.6,273.6 L75.7,270.6 L75.9,272.2 L76.0,275.7 L76.2,277.8 L76.3,274.1 L76.5,271.3 L76.6,274.8 L76.8,269.0 L76.9,271.9 L77.1,276.1 L77.2,274.6 L77.4,270.5 L77.5,270.0 L77.7,274.7 L77.8,273.0 L78.0,271.9 L78.1,273.8 L78.3,271.9 L78.4,269.3 L78.6,274.5 L78.7,271.7 L78.9,271.0 L79.0,270.4 L79.2,273.4 L79.3,271.4 L79.5,274.1 L79.6,272.3 L79.8,274.9 L79.9,272.1 L80.1,271.6 L80.2,269.1 L80.4,270.7 L80.5,274.2 L80.7,278.6 L80.8,270.4 L81.0,270.8 L81.1,273.4 L81.2,273.7 L81.4,271.5 L81.5,272.9 L81.7,269.7 L81.8,272.2 L82.0,274.5 L82.1,275.9 L82.3,272.5 L82.4,272.3 L82.6,273.6 L82.7,274.9 L82.9,273.7 L83.0,271.4 L83.2,273.5 L83.3,274.6 L83.5,271.5 L83.6,270.3 L83.8,273.8 L83.9,273.5 L84.1,274.7 L84.2,273.0 L84.4,271.6 L84.5,272.0 L84.7,270.9 L84.8,271.1 L85.0,271.8 L85.1,272.0 L85.3,275.0 L85.4,270.6 L85.6,272.8 L85.7,271.8 L85.9,275.7 L86.0,273.4 L86.2,272.2 L86.3,274.5 L86.5,273.1 L86.6,272.1 L86.8,275.9 L86.9,274.3 L87.1,276.2 L87.2,275.2 L87.4,274.5 L87.5,273.3 L87.7,271.0 L87.8,274.4 L88.0,273.2 L88.1,274.3 L88.3,273.0 L88.4,271.8 L88.6,271.2 L88.7,274.4 L88.9,275.5 L89.0,272.5 L89.2,273.9 L89.3,275.6 L89.5,271.5 L89.6,272.4 L89.8,270.9 L89.9,275.2 L90.1,273.5 L90.2,272.2 L90.4,269.9 L90.5,272.7 L90.7,274.9 L90.8,272.4 L91.0,272.2 L91.1,274.1 L91.3,270.6 L91.4,273.0 L91.6,274.0 L91.7,271.4 L91.9,271.3 L92.0,273.2 L92.2,272.6 L92.3,272.3 L92.5,273.1 L92.6,273.0 L92.8,270.8 L92.9,271.3 L93.1,273.3 L93.2,274.5 L93.4,274.8 L93.5,270.6 L93.7,274.2 L93.8,273.4 L94.0,271.9 L94.1,272.7 L94.3,273.2 L94.4,274.8 L94.6,269.3 L94.7,272.2 L94.9,270.6 L95.0,270.3 L95.2,272.5 L95.3,271.7 L95.5,268.0 L95.6,269.0 L95.8,269.6 L95.9,266.2 L96.1,270.1 L96.2,267.9 L96.4,268.0 L96.5,267.8 L96.7,270.1 L96.8,266.4 L97.0,265.2 L97.1,268.6 L97.3,264.0 L97.4,263.5 L97.6,261.4 L97.7,265.5 L97.9,263.6 L98.0,263.6 L98.2,262.6 L98.3,261.7 L98.5,260.2 L98.6,259.9 L98.8,261.9 L98.9,261.1 L99.1,263.8 L99.2,259.2 L99.4,259.7 L99.5,258.7 L99.7,263.0 L99.8,258.2 L100.0,261.9 L100.1,263.1 L100.3,260.2 L100.4,261.8 L100.6,256.5 L100.7,259.7 L100.9,257.4 L101.0,260.8 L101.2,260.5 L101.3,259.1 L101.4,262.3 L101.6,261.2 L101.7,259.7 L101.9,259.7 L102.0,258.0 L102.2,260.4 L102.3,264.7 L102.5,259.6 L102.6,261.8 L102.8,260.1 L102.9,262.6 L103.1,262.0 L103.2,260.9 L103.4,258.1 L103.5,260.6 L103.7,263.8 L103.8,261.2 L104.0,262.9 L104.1,261.0 L104.3,258.6 L104.4,262.9 L104.6,262.8 L104.7,261.3 L104.9,261.8 L105.0,263.1 L105.2,261.6 L105.3,263.4 L105.5,262.5 L105.6,258.7 L105.8,262.9 L105.9,262.2 L106.1,261.8 L106.2,264.2 L106.4,262.7 L106.5,264.7 L106.7,265.8 L106.8,264.2 L107.0,261.2 L107.1,262.8 L107.3,265.8 L107.4,263.8 L107.6,262.9 L107.7,264.3 L107.9,265.4 L108.0,265.1 L108.2,265.9 L108.3,263.3 L108.5,264.3 L108.6,264.4 L108.8,264.9 L108.9,261.2 L109.1,264.6 L109.2,262.7 L109.4,267.6 L109.5,268.0 L109.7,268.2 L109.8,266.7 L110.0,264.3 L110.1,267.0 L110.3,264.9 L110.4,266.3 L110.6,263.6 L110.7,264.2 L110.9,266.1 L111.0,268.4 L111.2,265.1 L111.3,269.2 L111.5,270.1 L111.6,262.8 L111.8,265.0 L111.9,263.3 L112.1,264.7 L112.2,263.9 L112.4,264.7 L112.5,266.5 L112.7,266.4 L112.8,265.1 L113.0,264.6 L113.1,264.7 L113.3,264.6 L113.4,265.4 L113.6,264.3 L113.7,265.1 L113.9,261.7 L114.0,265.4 L114.2,267.0 L114.3,264.1 L114.5,261.2 L114.6,266.0 L114.8,262.9 L114.9,258.0 L115.1,262.9 L115.2,264.3 L115.4,263.8 L115.5,265.2 L115.7,264.0 L115.8,263.0 L116.0,259.1 L116.1,260.5 L116.3,262.7 L116.4,263.5 L116.6,260.4 L116.7,261.0 L116.9,262.8 L117.0,258.4 L117.2,258.3 L117.3,261.2 L117.5,262.0 L117.6,260.5 L117.8,257.2 L117.9,261.2 L118.1,258.7 L118.2,262.1 L118.4,260.6 L118.5,261.2 L118.7,261.7 L118.8,259.6 L119.0,261.8 L119.1,262.5 L119.3,260.9 L119.4,262.4 L119.6,258.8 L119.7,261.4 L119.9,260.2 L120.0,257.9 L120.2,259.4 L120.3,258.4 L120.5,258.3 L120.6,259.3 L120.8,261.0 L120.9,258.4 L121.1,259.1 L121.2,256.2 L121.4,258.9 L121.5,260.6 L121.7,259.9 L121.8,259.2 L121.9,257.3 L122.1,256.5 L122.2,257.9 L122.4,255.6 L122.5,255.7 L122.7,259.5 L122.8,256.1 L123.0,260.8 L123.1,255.0 L123.3,258.2 L123.4,255.3 L123.6,257.6 L123.7,255.4 L123.9,257.2 L124.0,256.8 L124.2,256.2 L124.3,257.8 L124.5,259.5 L124.6,255.7 L124.8,258.3 L124.9,256.8 L125.1,256.5 L125.2,260.3 L125.4,252.6 L125.5,255.1 L125.7,253.1 L125.8,255.6 L126.0,255.7 L126.1,262.7 L126.3,256.6 L126.4,259.1 L126.6,258.1 L126.7,255.0 L126.9,256.5 L127.0,258.6 L127.2,255.9 L127.3,255.9 L127.5,256.3 L127.6,252.7 L127.8,253.9 L127.9,255.8 L128.1,256.1 L128.2,253.5 L128.4,254.5 L128.5,254.8 L128.7,254.6 L128.8,256.1 L129.0,255.0 L129.1,255.0 L129.3,252.2 L129.4,252.8 L129.6,255.1 L129.7,251.7 L129.9,254.9 L130.0,253.2 L130.2,252.9 L130.3,255.4 L130.5,253.0 L130.6,252.6 L130.8,252.9 L130.9,254.1 L131.1,258.8 L131.2,250.2 L131.4,253.8 L131.5,253.4 L131.7,255.4 L131.8,253.1 L132.0,249.4 L132.1,255.9 L132.3,251.7 L132.4,253.5 L132.6,251.2 L132.7,251.6 L132.9,252.6 L133.0,254.9 L133.2,254.8 L133.3,252.3 L133.5,254.2 L133.6,252.6 L133.8,253.5 L133.9,253.5 L134.1,254.3 L134.2,252.1 L134.4,252.9 L134.5,253.5 L134.7,253.3 L134.8,251.7 L135.0,256.1 L135.1,252.3 L135.3,254.4 L135.4,253.4 L135.6,255.2 L135.7,249.3 L135.9,256.6 L136.0,252.7 L136.2,250.9 L136.3,253.3 L136.5,256.9 L136.6,253.9 L136.8,250.9 L136.9,252.3 L137.1,255.4 L137.2,250.7 L137.4,252.8 L137.5,252.6 L137.7,256.8 L137.8,252.6 L138.0,255.4 L138.1,252.0 L138.3,251.8 L138.4,254.9 L138.6,254.2 L138.7,250.2 L138.9,254.3 L139.0,254.3 L139.2,252.2 L139.3,253.6 L139.5,253.7 L139.6,252.5 L139.8,252.3 L139.9,252.2 L140.1,252.9 L140.2,251.1 L140.4,253.3 L140.5,250.9 L140.7,253.6 L140.8,253.3 L141.0,251.8 L141.1,255.0 L141.3,256.9 L141.4,255.9 L141.6,251.3 L141.7,255.8 L141.9,254.0 L142.0,253.6 L142.2,252.7 L142.3,253.8 L142.4,256.2 L142.6,254.8 L142.7,253.2 L142.9,252.8 L143.0,253.2 L143.2,255.0 L143.3,257.2 L143.5,252.2 L143.6,254.1 L143.8,253.5 L143.9,252.9 L144.1,254.9 L144.2,255.2 L144.4,251.9 L144.5,252.6 L144.7,256.4 L144.8,254.9 L145.0,255.3 L145.1,253.6 L145.3,253.9 L145.4,255.4 L145.6,253.8 L145.7,252.8 L145.9,254.7 L146.0,256.3 L146.2,253.1 L146.3,256.7 L146.5,256.1 L146.6,253.5 L146.8,255.1 L146.9,255.0 L147.1,256.2 L147.2,256.3 L147.4,253.1 L147.5,253.1 L147.7,257.1 L147.8,255.6 L148.0,256.2 L148.1,256.1 L148.3,258.2 L148.4,253.7 L148.6,257.6 L148.7,254.4 L148.9,257.1 L149.0,258.2 L149.2,253.7 L149.3,256.7 L149.5,255.6 L149.6,255.7 L149.8,256.3 L149.9,254.5 L150.1,254.7 L150.2,257.5 L150.4,257.8 L150.5,255.5 L150.7,254.1 L150.8,260.4 L151.0,258.5 L151.1,257.3 L151.3,255.1 L151.4,255.8 L151.6,257.3 L151.7,255.3 L151.9,259.6 L152.0,257.2 L152.2,257.7 L152.3,255.4 L152.5,255.7 L152.6,255.9 L152.8,257.7 L152.9,256.9 L153.1,256.9 L153.2,258.0 L153.4,257.9 L153.5,260.0 L153.7,257.3 L153.8,256.0 L154.0,257.7 L154.1,260.2 L154.3,256.9 L154.4,257.9 L154.6,257.3 L154.7,258.6 L154.9,258.5 L155.0,256.8 L155.2,257.8 L155.3,259.7 L155.5,260.1 L155.6,259.8 L155.8,259.8 L155.9,257.9 L156.1,257.9 L156.2,260.1 L156.4,256.7 L156.5,258.6 L156.7,255.7 L156.8,258.2 L157.0,257.7 L157.1,257.0 L157.3,260.0 L157.4,257.9 L157.6,258.6 L157.7,258.8 L157.9,258.1 L158.0,261.7 L158.2,258.6 L158.3,259.8 L158.5,257.5 L158.6,258.9 L158.8,259.2 L158.9,259.3 L159.1,259.0 L159.2,260.2 L159.4,262.6 L159.5,259.9 L159.7,260.0 L159.8,259.7 L160.0,264.5 L160.1,263.1 L160.3,261.5 L160.4,261.8 L160.6,259.6 L160.7,260.6 L160.9,261.3 L161.0,261.3 L161.2,259.8 L161.3,260.0 L161.5,262.2 L161.6,262.0 L161.8,258.2 L161.9,261.8 L162.1,263.8 L162.2,260.9 L162.4,262.4 L162.5,259.8 L162.6,263.5 L162.8,260.5 L162.9,260.4 L163.1,262.0 L163.2,266.4 L163.4,261.8 L163.5,260.8 L163.7,263.7 L163.8,263.4 L164.0,265.8 L164.1,261.2 L164.3,260.8 L164.4,262.9 L164.6,264.2 L164.7,264.2 L164.9,265.5 L165.0,261.5 L165.2,262.6 L165.3,263.8 L165.5,265.4 L165.6,264.9 L165.8,263.6 L165.9,262.7 L166.1,265.8 L166.2,266.0 L166.4,268.9 L166.5,264.4 L166.7,267.3 L166.8,262.9 L167.0,264.0 L167.1,263.8 L167.3,264.2 L167.4,263.7 L167.6,264.2 L167.7,265.1 L167.9,264.5 L168.0,266.3 L168.2,265.2 L168.3,265.4 L168.5,267.7 L168.6,266.0 L168.8,265.8 L168.9,265.5 L169.1,265.7 L169.2,266.6 L169.4,264.4 L169.5,267.5 L169.7,268.2 L169.8,267.6 L170.0,265.1 L170.1,263.4 L170.3,265.2 L170.4,266.2 L170.6,267.3 L170.7,265.7 L170.9,265.6 L171.0,268.5 L171.2,265.1 L171.3,267.8 L171.5,267.6 L171.6,264.1 L171.8,266.7 L171.9,265.4 L172.1,264.8 L172.2,263.5 L172.4,263.9 L172.5,267.1 L172.7,265.8 L172.8,266.9 L173.0,264.8 L173.1,266.0 L173.3,266.1 L173.4,264.2 L173.6,264.0 L173.7,267.3 L173.9,266.9 L174.0,265.2 L174.2,266.6 L174.3,267.8 L174.5,269.6 L174.6,265.4 L174.8,267.8 L174.9,270.1 L175.1,267.0 L175.2,269.2 L175.4,262.9 L175.5,269.2 L175.7,266.9 L175.8,264.1 L176.0,268.2 L176.1,268.7 L176.3,268.9 L176.4,268.9 L176.6,267.1 L176.7,266.0 L176.9,266.4 L177.0,267.1 L177.2,267.8 L177.3,266.5 L177.5,267.3 L177.6,268.6 L177.8,267.8 L177.9,270.8 L178.1,270.6 L178.2,265.5 L178.4,266.4 L178.5,265.3 L178.7,265.5 L178.8,268.2 L179.0,265.8 L179.1,265.7 L179.3,266.9 L179.4,268.6 L179.6,266.8 L179.7,266.8 L179.9,268.7 L180.0,268.0 L180.2,268.0 L180.3,268.7 L180.5,265.7 L180.6,267.5 L180.8,266.2 L180.9,268.7 L181.1,268.3 L181.2,265.4 L181.4,269.0 L181.5,265.1 L181.7,268.6 L181.8,267.0 L182.0,265.3 L182.1,264.8 L182.3,265.9 L182.4,266.3 L182.6,265.1 L182.7,266.9 L182.9,263.7 L183.0,265.7 L183.1,265.5 L183.3,262.5 L183.4,265.6 L183.6,263.0 L183.7,260.8 L183.9,263.5 L184.0,263.8 L184.2,265.2 L184.3,262.8 L184.5,265.4 L184.6,265.0 L184.8,264.1 L184.9,264.1 L185.1,262.2 L185.2,260.3 L185.4,261.7 L185.5,261.7 L185.7,260.1 L185.8,258.8 L186.0,256.2 L186.1,259.0 L186.3,257.9 L186.4,254.7 L186.6,256.2 L186.7,256.4 L186.9,254.4 L187.0,255.0 L187.2,254.2 L187.3,250.0 L187.5,251.0 L187.6,251.3 L187.8,251.1 L187.9,250.9 L188.1,245.0 L188.2,246.9 L188.4,247.2 L188.5,247.0 L188.7,246.8 L188.8,242.0 L189.0,241.9 L189.1,240.0 L189.3,242.0 L189.4,238.0 L189.6,241.0 L189.7,239.9 L189.9,238.6 L190.0,234.0 L190.2,235.8 L190.3,237.5 L190.5,233.9 L190.6,235.4 L190.8,235.5 L190.9,236.9 L191.1,236.0 L191.2,236.2 L191.4,235.4 L191.5,236.4 L191.7,236.6 L191.8,238.4 L192.0,237.6 L192.1,240.1 L192.3,236.7 L192.4,241.8 L192.6,240.6 L192.7,243.4 L192.9,242.7 L193.0,244.8 L193.2,246.7 L193.3,244.5 L193.5,246.4 L193.6,247.0 L193.8,248.5 L193.9,246.7 L194.1,249.8 L194.2,250.6 L194.4,250.7 L194.5,252.4 L194.7,251.3 L194.8,256.5 L195.0,255.9 L195.1,258.8 L195.3,255.4 L195.4,255.7 L195.6,258.6 L195.7,256.3 L195.9,259.8 L196.0,259.0 L196.2,260.2 L196.3,261.6 L196.5,261.8 L196.6,265.0 L196.8,263.7 L196.9,261.3 L197.1,265.1 L197.2,262.1 L197.4,264.6 L197.5,263.0 L197.7,264.0 L197.8,267.5 L198.0,265.0 L198.1,265.2 L198.3,265.6 L198.4,266.2 L198.6,269.1 L198.7,265.4 L198.9,265.5 L199.0,268.4 L199.2,265.4 L199.3,267.4 L199.5,269.8 L199.6,268.3 L199.8,267.7 L199.9,267.5 L200.1,267.3 L200.2,267.9 L200.4,269.1 L200.5,270.9 L200.7,270.6 L200.8,268.4 L201.0,268.2 L201.1,270.4 L201.3,266.8 L201.4,268.9 L201.6,269.1 L201.7,268.0 L201.9,268.2 L202.0,270.3 L202.2,267.4 L202.3,268.5 L202.5,268.9 L202.6,270.0 L202.8,267.9 L202.9,271.6 L203.1,269.5 L203.2,269.6 L203.4,269.5 L203.5,269.1 L203.6,268.6 L203.8,271.8 L203.9,270.4 L204.1,269.9 L204.2,271.6 L204.4,269.1 L204.5,271.1 L204.7,270.2 L204.8,268.9 L205.0,271.3 L205.1,268.0 L205.3,271.1 L205.4,268.9 L205.6,270.8 L205.7,272.2 L205.9,271.0 L206.0,269.3 L206.2,270.2 L206.3,269.7 L206.5,268.5 L206.6,268.6 L206.8,270.3 L206.9,271.0 L207.1,267.7 L207.2,270.2 L207.4,271.0 L207.5,270.4 L207.7,268.8 L207.8,271.8 L208.0,268.5 L208.1,271.2 L208.3,272.6 L208.4,267.4 L208.6,270.7 L208.7,270.8 L208.9,270.6 L209.0,269.2 L209.2,269.9 L209.3,268.3 L209.5,270.5 L209.6,271.1 L209.8,269.3 L209.9,268.9 L210.1,269.6 L210.2,270.2 L210.4,270.3 L210.5,270.1 L210.7,270.3 L210.8,268.3 L211.0,266.3 L211.1,271.0 L211.3,272.2 L211.4,268.1 L211.6,269.2 L211.7,270.5 L211.9,271.4 L212.0,271.0 L212.2,271.8 L212.3,269.9 L212.5,270.5 L212.6,270.5 L212.8,269.3 L212.9,271.6 L213.1,270.7 L213.2,271.2 L213.4,269.2 L213.5,271.2 L213.7,268.2 L213.8,270.2 L214.0,265.9 L214.1,268.2 L214.3,270.6 L214.4,268.9 L214.6,269.7 L214.7,267.1 L214.9,271.6 L215.0,270.2 L215.2,269.3 L215.3,269.8 L215.5,269.7 L215.6,271.2 L215.8,269.4 L215.9,267.0 L216.1,268.6 L216.2,270.8 L216.4,269.7 L216.5,268.2 L216.7,269.6 L216.8,268.9 L217.0,269.5 L217.1,266.3 L217.3,267.2 L217.4,269.3 L217.6,268.0 L217.7,268.7 L217.9,270.9 L218.0,267.6 L218.2,268.3 L218.3,267.1 L218.5,266.8 L218.6,267.5 L218.8,265.4 L218.9,264.4 L219.1,269.1 L219.2,266.9 L219.4,268.4 L219.5,266.9 L219.7,266.7 L219.8,267.3 L220.0,267.1 L220.1,264.2 L220.3,267.4 L220.4,264.1 L220.6,265.5 L220.7,268.5 L220.9,264.7 L221.0,266.6 L221.2,263.5 L221.3,264.4 L221.5,263.3 L221.6,263.4 L221.8,261.2 L221.9,260.7 L222.1,261.9 L222.2,258.8 L222.4,259.2 L222.5,260.7 L222.7,258.4 L222.8,257.4 L223.0,256.4 L223.1,257.4 L223.3,255.9 L223.4,255.9 L223.6,254.5 L223.7,256.5 L223.8,252.4 L224.0,249.3 L224.1,251.1 L224.3,249.9 L224.4,248.9 L224.6,245.3 L224.7,247.8 L224.9,244.9 L225.0,243.6 L225.2,240.0 L225.3,241.4 L225.5,239.1 L225.6,239.4 L225.8,235.3 L225.9,232.5 L226.1,232.6 L226.2,229.3 L226.4,229.2 L226.5,225.2 L226.7,224.5 L226.8,222.3 L227.0,220.5 L227.1,217.7 L227.3,215.1 L227.4,213.9 L227.6,210.9 L227.7,209.6 L227.9,206.7 L228.0,201.7 L228.2,202.3 L228.3,202.0 L228.5,198.2 L228.6,196.2 L228.8,193.7 L228.9,190.2 L229.1,186.8 L229.2,187.6 L229.4,185.8 L229.5,183.1 L229.7,181.0 L229.8,179.2 L230.0,176.9 L230.1,175.8 L230.3,174.0 L230.4,173.2 L230.6,170.4 L230.7,170.0 L230.9,170.9 L231.0,169.2 L231.2,166.1 L231.3,169.4 L231.5,166.3 L231.6,172.3 L231.8,171.2 L231.9,171.8 L232.1,170.9 L232.2,171.4 L232.4,173.9 L232.5,175.7 L232.7,176.2 L232.8,179.1 L233.0,181.7 L233.1,183.5 L233.3,183.4 L233.4,184.0 L233.6,189.1 L233.7,190.4 L233.9,194.2 L234.0,198.1 L234.2,200.5 L234.3,201.1 L234.5,204.5 L234.6,207.6 L234.8,207.8 L234.9,210.5 L235.1,213.6 L235.2,214.7 L235.4,216.3 L235.5,218.2 L235.7,221.4 L235.8,222.7 L236.0,226.6 L236.1,227.1 L236.3,231.5 L236.4,233.0 L236.6,231.6 L236.7,236.5 L236.9,236.2 L237.0,240.2 L237.2,240.7 L237.3,241.5 L237.5,243.9 L237.6,243.7 L237.8,246.2 L237.9,247.6 L238.1,248.1 L238.2,250.0 L238.4,249.3 L238.5,252.4 L238.7,251.1 L238.8,254.5 L239.0,255.2 L239.1,256.4 L239.3,255.5 L239.4,261.0 L239.6,257.5 L239.7,258.7 L239.9,258.1 L240.0,261.6 L240.2,259.7 L240.3,262.2 L240.5,260.2 L240.6,262.3 L240.8,261.8 L240.9,264.0 L241.1,262.8 L241.2,262.4 L241.4,264.5 L241.5,262.7 L241.7,263.3 L241.8,265.8 L242.0,262.7 L242.1,266.4 L242.3,265.1 L242.4,264.7 L242.6,266.4 L242.7,267.1 L242.9,265.7 L243.0,266.4 L243.2,267.9 L243.3,268.0 L243.5,267.1 L243.6,266.3 L243.8,266.2 L243.9,266.8 L244.1,268.6 L244.2,268.5 L244.3,268.3 L244.5,269.8 L244.6,267.7 L244.8,267.7 L244.9,267.8 L245.1,270.9 L245.2,265.9 L245.4,269.0 L245.5,269.3 L245.7,268.9 L245.8,271.9 L246.0,270.5 L246.1,270.0 L246.3,268.0 L246.4,269.8 L246.6,268.8 L246.7,269.4 L246.9,269.7 L247.0,268.9 L247.2,270.4 L247.3,271.7 L247.5,271.0 L247.6,270.1 L247.8,267.4 L247.9,271.3 L248.1,271.4 L248.2,269.8 L248.4,269.5 L248.5,271.0 L248.7,269.2 L248.8,271.3 L249.0,269.0 L249.1,269.2 L249.3,270.5 L249.4,268.7 L249.6,270.6 L249.7,271.3 L249.9,269.0 L250.0,271.9 L250.2,270.0 L250.3,271.5 L250.5,271.1 L250.6,270.3 L250.8,270.3 L250.9,268.8 L251.1,270.1 L251.2,270.1 L251.4,273.1 L251.5,272.4 L251.7,269.4 L251.8,272.2 L252.0,271.5 L252.1,270.7 L252.3,271.8 L252.4,272.3 L252.6,270.6 L252.7,271.0 L252.9,271.6 L253.0,270.1 L253.2,271.6 L253.3,271.3 L253.5,270.6 L253.6,270.4 L253.8,271.9 L253.9,272.6 L254.1,272.0 L254.2,270.5 L254.4,272.5 L254.5,271.8 L254.7,272.4 L254.8,273.1 L255.0,270.5 L255.1,271.5 L255.3,271.0 L255.4,270.6 L255.6,274.3 L255.7,272.9 L255.9,269.6 L256.0,272.3 L256.2,271.1 L256.3,273.3 L256.5,272.0 L256.6,271.7 L256.8,272.1 L256.9,272.4 L257.1,272.0 L257.2,271.7 L257.4,271.8 L257.5,272.6 L257.7,270.6 L257.8,272.0 L258.0,271.9 L258.1,271.4 L258.3,273.0 L258.4,270.4 L258.6,271.6 L258.7,271.0 L258.9,272.7 L259.0,271.5 L259.2,272.1 L259.3,272.6 L259.5,270.1 L259.6,272.6 L259.8,271.2 L259.9,271.8 L260.1,271.9 L260.2,273.1 L260.4,273.0 L260.5,274.3 L260.7,272.3 L260.8,271.5 L261.0,271.5 L261.1,272.9 L261.3,274.1 L261.4,272.5 L261.6,271.4 L261.7,272.4 L261.9,272.4 L262.0,272.1 L262.2,271.2 L262.3,269.0 L262.5,271.4 L262.6,273.4 L262.8,272.4 L262.9,269.4 L263.1,272.1 L263.2,269.9 L263.4,274.6 L263.5,272.4 L263.7,270.7 L263.8,273.2 L264.0,271.2 L264.1,272.9 L264.3,272.3 L264.4,270.8 L264.6,273.1 L264.7,270.6 L264.8,273.9 L265.0,272.4 L265.1,271.1 L265.3,270.1 L265.4,274.3 L265.6,274.2 L265.7,270.8 L265.9,274.4 L266.0,272.6 L266.2,272.2 L266.3,272.3 L266.5,272.1 L266.6,274.2 L266.8,272.7 L266.9,270.2 L267.1,275.1 L267.2,273.6 L267.4,271.2 L267.5,272.1 L267.7,271.4 L267.8,272.6 L268.0,273.0 L268.1,272.8 L268.3,271.8 L268.4,271.5 L268.6,273.5 L268.7,272.4 L268.9,275.3 L269.0,271.5 L269.2,273.5 L269.3,272.5 L269.5,271.5 L269.6,274.1 L269.8,272.6 L269.9,271.4 L270.1,272.1 L270.2,273.7 L270.4,270.9 L270.5,274.1 L270.7,273.3 L270.8,272.1 L271.0,274.1 L271.1,274.5 L271.3,273.1 L271.4,272.6 L271.6,274.6 L271.7,274.2 L271.9,271.3 L272.0,272.1 L272.2,272.1 L272.3,271.9 L272.5,270.6 L272.6,273.5 L272.8,272.5 L272.9,272.5 L273.1,274.1 L273.2,271.7 L273.4,272.3 L273.5,272.7 L273.7,271.9 L273.8,272.2 L274.0,273.3 L274.1,272.4 L274.3,274.0 L274.4,271.5 L274.6,272.6 L274.7,270.6 L274.9,272.2 L275.0,271.5 L275.2,274.0 L275.3,273.2 L275.5,272.9 L275.6,274.5 L275.8,274.0 L275.9,273.1 L276.1,271.4 L276.2,270.5 L276.4,272.2 L276.5,271.7 L276.7,271.4 L276.8,271.8 L277.0,270.1 L277.1,273.9 L277.3,270.6 L277.4,271.2 L277.6,272.6 L277.7,269.9 L277.9,273.0 L278.0,273.0 L278.2,271.4 L278.3,270.4 L278.5,271.1 L278.6,269.4 L278.8,273.3 L278.9,271.6 L279.1,270.6 L279.2,270.3 L279.4,272.0 L279.5,273.1 L279.7,269.6 L279.8,270.4 L280.0,268.9 L280.1,271.8 L280.3,271.1 L280.4,273.5 L280.6,270.5 L280.7,270.0 L280.9,269.6 L281.0,271.4 L281.2,268.2 L281.3,271.0 L281.5,270.3 L281.6,269.2 L281.8,268.6 L281.9,270.8 L282.1,271.6 L282.2,268.6 L282.4,269.6 L282.5,270.9 L282.7,267.8 L282.8,268.0 L283.0,266.6 L283.1,267.7 L283.3,267.5 L283.4,266.8 L283.6,266.1 L283.7,264.8 L283.9,264.8 L284.0,264.9 L284.2,266.5 L284.3,264.8 L284.5,264.0 L284.6,265.4 L284.8,264.9 L284.9,262.9 L285.0,262.6 L285.2,263.8 L285.3,263.0 L285.5,261.0 L285.6,261.9 L285.8,261.1 L285.9,262.0 L286.1,259.1 L286.2,260.7 L286.4,259.7 L286.5,257.5 L286.7,259.5 L286.8,258.8 L287.0,255.6 L287.1,259.2 L287.3,254.9 L287.4,254.7 L287.6,255.0 L287.7,255.9 L287.9,255.3 L288.0,254.1 L288.2,255.6 L288.3,254.1 L288.5,255.1 L288.6,256.6 L288.8,253.2 L288.9,249.7 L289.1,252.3 L289.2,251.5 L289.4,252.9 L289.5,253.0 L289.7,251.5 L289.8,251.7 L290.0,253.0 L290.1,253.4 L290.3,250.7 L290.4,255.4 L290.6,254.6 L290.7,254.9 L290.9,255.7 L291.0,254.5 L291.2,256.2 L291.3,258.0 L291.5,258.5 L291.6,258.3 L291.8,257.9 L291.9,257.7 L292.1,260.8 L292.2,260.4 L292.4,259.7 L292.5,258.0 L292.7,260.1 L292.8,259.3 L293.0,263.7 L293.1,262.9 L293.3,262.2 L293.4,263.2 L293.6,267.2 L293.7,265.9 L293.9,263.2 L294.0,265.1 L294.2,264.1 L294.3,263.9 L294.5,266.6 L294.6,269.7 L294.8,268.9 L294.9,267.4 L295.1,267.2 L295.2,268.2 L295.4,269.5 L295.5,266.6 L295.7,266.4 L295.8,271.3 L296.0,269.5 L296.1,271.4 L296.3,269.9 L296.4,271.6 L296.6,269.2 L296.7,270.7 L296.9,272.2 L297.0,271.7 L297.2,269.9 L297.3,271.8 L297.5,269.9 L297.6,269.1 L297.8,271.6 L297.9,272.8 L298.1,272.2 L298.2,269.7 L298.4,272.4 L298.5,272.2 L298.7,270.9 L298.8,268.4 L299.0,272.9 L299.1,272.7 L299.3,272.3 L299.4,269.6 L299.6,269.9 L299.7,273.1 L299.9,272.8 L300.0,272.5 L300.2,271.6 L300.3,272.4 L300.5,271.3 L300.6,271.6 L300.8,270.9 L300.9,272.3 L301.1,271.5 L301.2,273.2 L301.4,273.0 L301.5,271.0 L301.7,274.4 L301.8,270.7 L302.0,272.7 L302.1,273.5 L302.3,273.7 L302.4,269.4 L302.6,273.4 L302.7,273.7 L302.9,274.0 L303.0,269.4 L303.2,271.4 L303.3,272.1 L303.5,271.7 L303.6,273.9 L303.8,271.4 L303.9,273.8 L304.1,273.0 L304.2,270.5 L304.4,271.1 L304.5,271.8 L304.7,272.5 L304.8,273.7 L305.0,272.2 L305.1,273.6 L305.3,270.5 L305.4,268.7 L305.5,272.2 L305.7,273.2 L305.8,272.2 L306.0,271.4 L306.1,273.2 L306.3,275.2 L306.4,272.6 L306.6,271.9 L306.7,271.8 L306.9,275.3 L307.0,272.8 L307.2,273.7 L307.3,274.5 L307.5,274.3 L307.6,271.8 L307.8,274.2 L307.9,274.1 L308.1,273.7 L308.2,274.4 L308.4,272.4 L308.5,273.0 L308.7,272.5 L308.8,274.1 L309.0,272.4 L309.1,273.7 L309.3,271.8 L309.4,273.1 L309.6,272.8 L309.7,273.1 L309.9,273.4 L310.0,273.0 L310.2,272.9 L310.3,270.6 L310.5,274.6 L310.6,272.4 L310.8,272.9 L310.9,272.1 L311.1,274.4 L311.2,272.0 L311.4,273.8 L311.5,274.6 L311.7,275.2 L311.8,274.6 L312.0,273.8 L312.1,271.5 L312.3,274.6 L312.4,274.5 L312.6,274.0 L312.7,274.0 L312.9,273.0 L313.0,272.3 L313.2,274.2 L313.3,274.4 L313.5,271.5 L313.6,274.0 L313.8,273.1 L313.9,273.9 L314.1,273.1 L314.2,274.1 L314.4,274.0 L314.5,273.8 L314.7,271.0 L314.8,273.7 L315.0,272.7 L315.1,271.2 L315.3,273.5 L315.4,270.9 L315.6,273.7 L315.7,274.7 L315.9,271.9 L316.0,273.7 L316.2,273.1 L316.3,273.4 L316.5,270.9 L316.6,273.3 L316.8,272.7 L316.9,273.4 L317.1,272.5 L317.2,273.9 L317.4,272.9 L317.5,273.4 L317.7,274.2 L317.8,272.8 L318.0,273.8 L318.1,272.8 L318.3,273.2 L318.4,271.9 L318.6,273.5 L318.7,274.1 L318.9,272.5 L319.0,273.6 L319.2,273.1 L319.3,271.3 L319.5,273.1 L319.6,274.3 L319.8,272.1 L319.9,270.5 L320.1,272.9 L320.2,271.9 L320.4,275.0 L320.5,272.7 L320.7,272.7 L320.8,272.0 L321.0,273.1 L321.1,272.1 L321.3,271.7 L321.4,272.7 L321.6,271.8 L321.7,274.5 L321.9,271.4 L322.0,272.8 L322.2,272.1 L322.3,271.2 L322.5,274.9 L322.6,270.4 L322.8,274.7 L322.9,271.2 L323.1,273.1 L323.2,275.7 L323.4,270.4 L323.5,271.3 L323.7,274.6 L323.8,273.2 L324.0,272.3 L324.1,272.9 L324.3,271.8 L324.4,273.1 L324.6,274.8 L324.7,272.5 L324.9,273.1 L325.0,274.4 L325.2,275.4 L325.3,272.2 L325.5,273.3 L325.6,272.2 L325.8,272.1 L325.9,272.4 L326.0,272.1 L326.2,270.8 L326.3,270.4 L326.5,271.9 L326.6,273.0 L326.8,274.3 L326.9,272.1 L327.1,272.6 L327.2,273.6 L327.4,273.6 L327.5,272.6 L327.7,272.6 L327.8,275.0 L328.0,272.3 L328.1,272.1 L328.3,270.7 L328.4,273.2 L328.6,272.3 L328.7,274.9 L328.9,272.2 L329.0,273.6 L329.2,273.7 L329.3,274.6 L329.5,271.0 L329.6,274.5 L329.8,272.6 L329.9,272.5 L330.1,272.2 L330.2,272.1 L330.4,272.2 L330.5,269.8 L330.7,273.2 L330.8,272.7 L331.0,271.4 L331.1,272.5 L331.3,275.4 L331.4,273.0 L331.6,272.1 L331.7,274.7 L331.9,271.6 L332.0,272.4 L332.2,271.9 L332.3,272.3 L332.5,273.5 L332.6,273.3 L332.8,271.7 L332.9,272.5 L333.1,272.7 L333.2,272.1 L333.4,272.6 L333.5,271.8 L333.7,271.7 L333.8,272.7 L334.0,271.4 L334.1,273.1 L334.3,272.4 L334.4,271.5 L334.6,271.9 L334.7,272.1 L334.9,272.5 L335.0,272.8 L335.2,272.4 L335.3,271.6 L335.5,274.4 L335.6,273.8 L335.8,272.8 L335.9,273.9 L336.1,273.1 L336.2,272.4 L336.4,272.9 L336.5,276.0 L336.7,274.0 L336.8,274.0 L337.0,272.3 L337.1,273.5 L337.3,275.5 L337.4,273.4 L337.6,274.1 L337.7,274.4 L337.9,273.7 L338.0,274.8 L338.2,273.2 L338.3,273.5 L338.5,272.2 L338.6,276.1 L338.8,273.3 L338.9,273.1 L339.1,274.6 L339.2,272.4 L339.4,273.0 L339.5,272.1 L339.7,273.0 L339.8,272.5 L340.0,273.6 L340.1,272.9 L340.3,272.3 L340.4,272.7 L340.6,272.9 L340.7,272.4 L340.9,274.1 L341.0,273.8 L341.2,273.2 L341.3,271.6 L341.5,273.6 L341.6,271.5 L341.8,273.2 L341.9,273.1 L342.1,272.3 L342.2,272.1 L342.4,272.2 L342.5,275.5 L342.7,272.7 L342.8,272.8 L343.0,274.2 L343.1,273.6 L343.3,274.3 L343.4,271.6 L343.6,271.8 L343.7,277.1 L343.9,273.1 L344.0,272.8 L344.2,273.4 L344.3,274.4 L344.5,271.8 L344.6,273.6 L344.8,273.2 L344.9,274.1 L345.1,273.5 L345.2,272.7 L345.4,272.3 L345.5,270.5 L345.7,274.6 L345.8,271.7 L346.0,273.0 L346.1,275.5 L346.2,273.0 L346.4,274.3 L346.5,273.3 L346.7,274.4 L346.8,273.6 L347.0,273.0 L347.1,275.2 L347.3,273.3 L347.4,272.1 L347.6,273.3 L347.7,274.3 L347.9,272.4 L348.0,274.6 L348.2,274.6 L348.3,276.2 L348.5,272.9 L348.6,274.4 L348.8,271.7 L348.9,273.2 L349.1,273.8 L349.2,274.1 L349.4,273.5 L349.5,273.5 L349.7,272.8 L349.8,273.0 L350.0,273.8 L350.1,274.1 L350.3,274.2 L350.4,274.6 L350.6,274.7 L350.7,271.2 L350.9,272.7 L351.0,273.0 L351.2,272.4 L351.3,274.4 L351.5,274.0 L351.6,272.9 L351.8,273.2 L351.9,274.5 L352.1,272.5 L352.2,272.5 L352.4,273.9 L352.5,273.4 L352.7,274.4 L352.8,273.2 L353.0,273.6 L353.1,272.0 L353.3,271.5 L353.4,272.6 L353.6,269.4 L353.7,273.0 L353.9,273.6 L354.0,272.5 L354.2,272.1 L354.3,273.6 L354.5,272.2 L354.6,273.4 L354.8,274.8 L354.9,273.0 L355.1,273.2 L355.2,272.7 L355.4,272.3 L355.5,272.3 L355.7,272.0 L355.8,273.2 L356.0,270.0 L356.1,271.5 L356.3,272.5 L356.4,270.7 L356.6,271.6 L356.7,270.8 L356.9,272.1 L357.0,272.5 L357.2,273.2 L357.3,272.0 L357.5,270.5 L357.6,271.6 L357.8,271.9 L357.9,272.8 L358.1,268.6 L358.2,271.4 L358.4,268.8 L358.5,271.7 L358.7,271.3 L358.8,271.3 L359.0,271.7 L359.1,271.0 L359.3,269.7 L359.4,270.8 L359.6,271.7 L359.7,270.0 L359.9,270.1 L360.0,268.6 L360.2,271.2 L360.3,269.2 L360.5,268.8 L360.6,269.0 L360.8,268.4 L360.9,269.0 L361.1,270.6 L361.2,269.9 L361.4,270.5 L361.5,270.4 L361.7,267.5 L361.8,269.0 L362.0,270.0 L362.1,270.8 L362.3,266.3 L362.4,266.1 L362.6,268.2 L362.7,267.1 L362.9,266.1 L363.0,267.6 L363.2,266.0 L363.3,264.1 L363.5,266.5 L363.6,266.5 L363.8,266.9 L363.9,267.1 L364.1,266.0 L364.2,265.4 L364.4,264.7 L364.5,263.4 L364.7,264.6 L364.8,266.1 L365.0,265.5 L365.1,266.9 L365.3,264.2 L365.4,262.1 L365.6,265.0 L365.7,265.1 L365.9,262.4 L366.0,261.7 L366.2,263.6 L366.3,264.2 L366.5,261.9 L366.6,262.7 L366.7,262.1 L366.9,261.5 L367.0,261.3 L367.2,262.9 L367.3,262.2 L367.5,261.9 L367.6,259.6 L367.8,264.6 L367.9,261.5 L368.1,262.4 L368.2,261.2 L368.4,263.0 L368.5,260.9 L368.7,262.8 L368.8,262.5 L369.0,263.8 L369.1,261.6 L369.3,262.2 L369.4,262.8 L369.6,265.6 L369.7,261.6 L369.9,263.7 L370.0,262.8 L370.2,264.0 L370.3,264.5 L370.5,264.1 L370.6,264.4 L370.8,264.6 L370.9,263.7 L371.1,264.3 L371.2,262.8 L371.4,264.5 L371.5,264.2 L371.7,264.9 L371.8,266.2 L372.0,266.0 L372.1,266.2 L372.3,267.1 L372.4,263.2 L372.6,266.6 L372.7,266.3 L372.9,266.3 L373.0,265.1 L373.2,267.4 L373.3,268.2 L373.5,268.2 L373.6,267.0 L373.8,268.0 L373.9,268.5 L374.1,269.6 L374.2,269.0 L374.4,267.9 L374.5,268.0 L374.7,268.1 L374.8,268.3 L375.0,267.6 L375.1,269.1 L375.3,267.5 L375.4,267.5 L375.6,268.9 L375.7,267.9 L375.9,268.4 L376.0,266.3 L376.2,269.7 L376.3,268.9 L376.5,268.8 L376.6,269.6 L376.8,269.3 L376.9,268.3 L377.1,271.5 L377.2,268.7 L377.4,270.4 L377.5,271.5 L377.7,268.7 L377.8,269.6 L378.0,268.5 L378.1,270.7 L378.3,269.2 L378.4,268.3 L378.6,271.1 L378.7,270.7 L378.9,268.7 L379.0,271.1 L379.2,269.9 L379.3,272.9 L379.5,271.7 L379.6,269.1 L379.8,269.4 L379.9,268.8 L380.1,269.9 L380.2,269.8 L380.4,270.6 L380.5,269.8 L380.7,268.0 L380.8,268.8 L381.0,271.3 L381.1,271.0 L381.3,269.4 L381.4,269.4 L381.6,269.4 L381.7,269.5 L381.9,267.5 L382.0,270.4 L382.2,268.6 L382.3,269.5 L382.5,266.3 L382.6,269.4 L382.8,270.6 L382.9,266.4 L383.1,270.6 L383.2,269.3 L383.4,267.8 L383.5,266.7 L383.7,269.8 L383.8,268.6 L384.0,268.9 L384.1,267.7 L384.3,267.0 L384.4,268.7 L384.6,266.4 L384.7,268.4 L384.9,265.3 L385.0,265.9 L385.2,265.1 L385.3,268.1 L385.5,264.3 L385.6,264.8 L385.8,266.6 L385.9,265.9 L386.1,267.9 L386.2,267.2 L386.4,265.5 L386.5,265.2 L386.7,262.0 L386.8,262.8 L387.0,263.1 L387.1,262.9 L387.2,261.2 L387.4,261.3 L387.5,261.0 L387.7,262.8 L387.8,261.7 L388.0,260.4 L388.1,260.0 L388.3,260.2 L388.4,258.6 L388.6,258.6 L388.7,256.5 L388.9,258.7 L389.0,258.6 L389.2,257.4 L389.3,257.0 L389.5,256.3 L389.6,257.8 L389.8,255.1 L389.9,252.8 L390.1,252.6 L390.2,254.0 L390.4,253.9 L390.5,253.0 L390.7,252.5 L390.8,251.2 L391.0,248.7 L391.1,249.1 L391.3,247.3 L391.4,248.5 L391.6,246.8 L391.7,248.0 L391.9,247.3 L392.0,244.8 L392.2,247.5 L392.3,247.1 L392.5,244.3 L392.6,245.7 L392.8,246.1 L392.9,244.7 L393.1,245.8 L393.2,244.9 L393.4,245.8 L393.5,244.7 L393.7,244.3 L393.8,245.1 L394.0,245.5 L394.1,245.0 L394.3,244.3 L394.4,244.2 L394.6,244.9 L394.7,244.9 L394.9,246.1 L395.0,246.5 L395.2,246.5 L395.3,247.1 L395.5,247.7 L395.6,249.8 L395.8,249.8 L395.9,248.3 L396.1,249.9 L396.2,249.6 L396.4,250.4 L396.5,250.8 L396.7,250.9 L396.8,250.6 L397.0,249.8 L397.1,253.5 L397.3,255.2 L397.4,253.3 L397.6,255.5 L397.7,255.0 L397.9,256.3 L398.0,255.6 L398.2,256.8 L398.3,257.4 L398.5,255.3 L398.6,258.8 L398.8,258.8 L398.9,256.6 L399.1,260.7 L399.2,260.3 L399.4,261.0 L399.5,261.6 L399.7,261.1 L399.8,260.7 L400.0,261.8 L400.1,262.2 L400.3,265.6 L400.4,265.5 L400.6,263.2 L400.7,263.6 L400.9,264.7 L401.0,265.3 L401.2,264.1 L401.3,264.0 L401.5,267.7 L401.6,266.9 L401.8,264.1 L401.9,264.1 L402.1,265.4 L402.2,266.8 L402.4,267.4 L402.5,266.6 L402.7,265.3 L402.8,267.6 L403.0,268.2 L403.1,267.7 L403.3,267.2 L403.4,268.6 L403.6,268.0 L403.7,266.9 L403.9,268.5 L404.0,267.0 L404.2,269.7 L404.3,269.3 L404.5,267.7 L404.6,269.2 L404.8,270.5 L404.9,266.7 L405.1,269.1 L405.2,271.3 L405.4,267.6 L405.5,269.3 L405.7,267.9 L405.8,269.6 L406.0,267.0 L406.1,267.9 L406.3,269.3 L406.4,270.2 L406.6,270.5 L406.7,270.6 L406.9,271.5 L407.0,271.1 L407.2,271.2 L407.3,269.2 L407.4,270.2 L407.6,274.2 L407.7,273.2 L407.9,271.5 L408.0,271.5 L408.2,271.8 L408.3,270.2 L408.5,273.0 L408.6,270.3 L408.8,270.7 L408.9,273.4 L409.1,268.4 L409.2,271.3 L409.4,268.8 L409.5,270.1 L409.7,270.8 L409.8,270.5 L410.0,271.1 L410.1,270.0 L410.3,270.8 L410.4,269.5 L410.6,270.5 L410.7,269.3 L410.9,271.7 L411.0,269.4 L411.2,271.8 L411.3,270.4 L411.5,270.6 L411.6,272.3 L411.8,271.0 L411.9,268.6 L412.1,271.5 L412.2,267.4 L412.4,271.1 L412.5,270.3 L412.7,269.1 L412.8,270.9 L413.0,270.4 L413.1,273.1 L413.3,270.2 L413.4,273.0 L413.6,272.3 L413.7,269.9 L413.9,269.6 L414.0,272.2 L414.2,270.4 L414.3,270.7 L414.5,270.2 L414.6,269.1 L414.8,270.0 L414.9,269.3 L415.1,268.6 L415.2,270.1 L415.4,272.5 L415.5,272.3 L415.7,270.3 L415.8,270.5 L416.0,271.0 L416.1,272.0 L416.3,270.7 L416.4,269.7 L416.6,269.8 L416.7,271.7 L416.9,273.4 L417.0,269.5 L417.2,267.8 L417.3,271.2 L417.5,270.2 L417.6,270.4 L417.8,271.8 L417.9,270.4 L418.1,268.7 L418.2,267.9 L418.4,270.2 L418.5,268.9 L418.7,270.6 L418.8,268.7 L419.0,269.9 L419.1,268.5 L419.3,269.8 L419.4,269.7 L419.6,271.0 L419.7,271.9 L419.9,270.0 L420.0,269.2 L420.2,272.6 L420.3,270.7 L420.5,271.0 L420.6,270.9 L420.8,271.9 L420.9,271.4 L421.1,271.0 L421.2,271.0 L421.4,269.0 L421.5,269.3 L421.7,269.9 L421.8,270.0 L422.0,269.9 L422.1,270.2 L422.3,269.8 L422.4,269.2 L422.6,267.6 L422.7,270.5 L422.9,270.1 L423.0,268.2 L423.2,269.8 L423.3,269.5 L423.5,269.0 L423.6,266.6 L423.8,267.2 L423.9,267.8 L424.1,270.3 L424.2,267.1 L424.4,267.5 L424.5,266.4 L424.7,267.0 L424.8,267.7 L425.0,264.6 L425.1,263.4 L425.3,267.4 L425.4,266.4 L425.6,265.3 L425.7,266.9 L425.9,266.6 L426.0,262.6 L426.2,264.6 L426.3,265.8 L426.5,263.3 L426.6,263.4 L426.8,264.5 L426.9,262.7 L427.1,261.2 L427.2,261.4 L427.4,260.2 L427.5,262.0 L427.7,258.8 L427.8,261.6 L427.9,257.9 L428.1,259.4 L428.2,257.1 L428.4,258.0 L428.5,259.0 L428.7,258.6 L428.8,258.2 L429.0,256.0 L429.1,255.6 L429.3,255.2 L429.4,255.0 L429.6,253.1 L429.7,254.3 L429.9,252.7 L430.0,253.0 L430.2,251.5 L430.3,251.0 L430.5,248.6 L430.6,248.3 L430.8,246.5 L430.9,247.0 L431.1,246.4 L431.2,246.8 L431.4,243.6 L431.5,248.2 L431.7,243.4 L431.8,244.3 L432.0,243.3 L432.1,238.2 L432.3,240.2 L432.4,241.6 L432.6,236.1 L432.7,239.3 L432.9,236.5 L433.0,236.4 L433.2,236.6 L433.3,233.4 L433.5,235.3 L433.6,233.8 L433.8,233.1 L433.9,234.4 L434.1,237.3 L434.2,233.1 L434.4,233.0 L434.5,232.0 L434.7,230.9 L434.8,231.9 L435.0,233.3 L435.1,231.6 L435.3,232.4 L435.4,231.1 L435.6,234.6 L435.7,229.7 L435.9,232.6 L436.0,232.8 L436.2,232.8 L436.3,231.5 L436.5,231.9 L436.6,233.5 L436.8,234.4 L436.9,233.4 L437.1,234.2 L437.2,236.8 L437.4,238.0 L437.5,236.7 L437.7,237.3 L437.8,238.0 L438.0,242.6 L438.1,240.9 L438.3,241.0 L438.4,243.1 L438.6,245.4 L438.7,244.8 L438.9,242.5 L439.0,244.9 L439.2,245.3 L439.3,246.1 L439.5,245.8 L439.6,247.6 L439.8,247.5 L439.9,249.9 L440.1,250.3 L440.2,249.2 L440.4,249.6 L440.5,251.8 L440.7,253.8 L440.8,254.3 L441.0,254.2 L441.1,251.0 L441.3,255.0 L441.4,255.3 L441.6,256.3 L441.7,255.8 L441.9,257.3 L442.0,257.6 L442.2,262.2 L442.3,260.3 L442.5,259.7 L442.6,260.3 L442.8,260.7 L442.9,261.5 L443.1,261.2 L443.2,262.1 L443.4,263.7 L443.5,263.9 L443.7,263.6 L443.8,265.2 L444.0,264.2 L444.1,263.1 L444.3,262.4 L444.4,264.0 L444.6,265.1 L444.7,265.9 L444.9,267.0 L445.0,265.2 L445.2,265.2 L445.3,267.3 L445.5,268.0 L445.6,266.2 L445.8,267.4 L445.9,268.9 L446.1,267.8 L446.2,267.5 L446.4,265.2 L446.5,269.5 L446.7,268.8 L446.8,268.4 L447.0,267.8 L447.1,267.0 L447.3,268.5 L447.4,268.6 L447.6,270.2 L447.7,267.5 L447.9,270.8 L448.0,269.2 L448.2,270.7 L448.3,268.2 L448.4,269.9 L448.6,271.0 L448.7,269.8 L448.9,268.0 L449.0,269.4 L449.2,270.5 L449.3,268.3 L449.5,268.3 L449.6,270.4 L449.8,269.0 L449.9,271.1 L450.1,268.9 L450.2,268.2 L450.4,269.5 L450.5,272.3 L450.7,269.6 L450.8,270.7 L451.0,271.1 L451.1,269.7 L451.3,272.2 L451.4,271.2 L451.6,271.6 L451.7,269.1 L451.9,269.0 L452.0,267.9 L452.2,271.1 L452.3,271.1 L452.5,272.3 L452.6,273.3 L452.8,271.3 L452.9,271.3 L453.1,272.2 L453.2,273.6 L453.4,270.8 L453.5,272.6 L453.7,271.6 L453.8,271.6 L454.0,273.0 L454.1,271.2 L454.3,270.9 L454.4,273.0 L454.6,272.3 L454.7,272.0 L454.9,272.2 L455.0,273.0 L455.2,272.0 L455.3,273.4 L455.5,273.1 L455.6,274.4 L455.8,274.1 L455.9,273.7 L456.1,272.4 L456.2,272.9 L456.4,272.0 L456.5,276.2 L456.7,272.5 L456.8,273.5 L457.0,274.5 L457.1,271.2 L457.3,271.9 L457.4,272.4 L457.6,271.7 L457.7,271.4 L457.9,272.3 L458.0,274.5 L458.2,273.8 L458.3,273.0 L458.5,273.0 L458.6,271.0 L458.8,273.8 L458.9,273.5 L459.1,271.7 L459.2,273.2 L459.4,272.8 L459.5,272.4 L459.7,271.8 L459.8,272.2 L460.0,271.9 L460.1,273.6 L460.3,273.4 L460.4,273.4 L460.6,272.8 L460.7,272.5 L460.9,275.5 L461.0,270.8 L461.2,274.5 L461.3,273.5 L461.5,273.1 L461.6,272.4 L461.8,272.8 L461.9,271.6 L462.1,271.4 L462.2,272.9 L462.4,271.1 L462.5,274.1 L462.7,274.4 L462.8,269.0 L463.0,271.2 L463.1,273.4 L463.3,273.4 L463.4,273.3 L463.6,273.7 L463.7,274.1 L463.9,274.2 L464.0,275.3 L464.2,273.2 L464.3,274.2 L464.5,271.3 L464.6,273.1 L464.8,271.8 L464.9,274.9 L465.1,276.1 L465.2,273.9 L465.4,271.7 L465.5,273.2 L465.7,273.4 L465.8,273.6 L466.0,274.7 L466.1,274.5 L466.3,270.2 L466.4,275.1 L466.6,272.8 L466.7,272.8 L466.9,275.2 L467.0,273.1 L467.2,271.8 L467.3,271.9 L467.5,273.6 L467.6,274.6 L467.8,275.3 L467.9,273.3 L468.1,273.0 L468.2,275.5 L468.4,273.0 L468.5,275.3 L468.6,273.8 L468.8,273.8 L468.9,273.3 L469.1,273.9 L469.2,273.0 L469.4,272.8 L469.5,273.4 L469.7,272.8 L469.8,273.9 L470.0,273.7 L470.1,273.2 L470.3,273.3 L470.4,273.3 L470.6,275.6 L470.7,273.5 L470.9,272.8 L471.0,273.2 L471.2,274.3 L471.3,273.3 L471.5,273.3 L471.6,273.2 L471.8,273.7 L471.9,274.0 L472.1,274.0 L472.2,271.5 L472.4,272.2 L472.5,270.3 L472.7,274.4 L472.8,274.8 L473.0,275.0 L473.1,273.6 L473.3,274.8 L473.4,273.4 L473.6,273.3 L473.7,271.6 L473.9,272.5 L474.0,272.7 L474.2,274.5 L474.3,275.4 L474.5,272.9 L474.6,273.9 L474.8,273.7 L474.9,272.5 L475.1,271.3 L475.2,272.5 L475.4,271.7 L475.5,273.0 L475.7,273.2 L475.8,273.2 L476.0,273.2 L476.1,274.0 L476.3,272.3 L476.4,274.5 L476.6,271.4 L476.7,273.5 L476.9,273.9 L477.0,272.5 L477.2,271.5 L477.3,274.2 L477.5,272.6 L477.6,274.4 L477.8,274.3 L477.9,273.4 L478.1,273.4 L478.2,274.6 L478.4,273.9 L478.5,272.3 L478.7,273.6 L478.8,274.1 L479.0,273.7 L479.1,273.7 L479.3,273.3 L479.4,273.3 L479.6,272.3 L479.7,271.7 L479.9,274.8 L480.0,272.7 L480.2,273.7 L480.3,271.6 L480.5,273.6 L480.6,272.4 L480.8,277.0 L480.9,272.2 L481.1,272.3 L481.2,274.5 L481.4,274.8 L481.5,270.9 L481.7,273.7 L481.8,274.4 L482.0,271.9 L482.1,274.2 L482.3,272.7 L482.4,272.1 L482.6,272.9 L482.7,272.7 L482.9,271.6 L483.0,275.9 L483.2,272.7 L483.3,272.3 L483.5,274.2 L483.6,273.1 L483.8,274.7 L483.9,272.8 L484.1,273.5 L484.2,273.2 L484.4,273.3 L484.5,272.8 L484.7,272.9 L484.8,275.0 L485.0,272.1 L485.1,272.3 L485.3,272.5 L485.4,273.6 L485.6,273.3 L485.7,274.0 L485.9,271.2 L486.0,273.1 L486.2,272.6 L486.3,272.5 L486.5,273.0 L486.6,270.4 L486.8,273.1 L486.9,272.9 L487.1,271.1 L487.2,272.7 L487.4,274.6 L487.5,272.3 L487.7,273.5 L487.8,272.5 L488.0,271.9 L488.1,271.8 L488.3,272.4 L488.4,274.4 L488.6,273.9 L488.7,272.1 L488.9,274.2 L489.0,272.9" stroke="#f4a460" stroke-width="2.0"/>
<path d="M101.8,314.3 V293.5" stroke="#ff0000" stroke-width="1.9"/>
<path d="M191.3,314.3 V283" stroke="#ff0000" stroke-width="1.9"/>
<path d="M231.3,314.3 V253" stroke="#ff0000" stroke-width="1.9"/>
<path d="M240.4,314.3 V295.5" stroke="#ff0000" stroke-width="1.9"/>
<path d="M288.9,314.3 V288.5" stroke="#ff0000" stroke-width="1.9"/>
<path d="M316.8,314.3 V298.5" stroke="#ff0000" stroke-width="1.9"/>
<path d="M364.8,314.3 V293.5" stroke="#ff0000" stroke-width="1.9"/>
<path d="M394.0,314.3 V283" stroke="#ff0000" stroke-width="1.9"/>
<path d="M435.1,314.3 V278" stroke="#ff0000" stroke-width="1.9"/>
<path d="M459.1,314.3 V296.5" stroke="#ff0000" stroke-width="1.9"/>
<path d="M466.6,314.3 V300.5" stroke="#ff0000" stroke-width="1.9"/>
</g>
<rect x="40.25" y="23.0" width="448.75" height="291.3" fill="none" stroke="#222" stroke-width="1.0"/>
<path d="M40.25,314.3 v4.67" stroke="#222" stroke-width="1.0"/>
<text x="40.25" y="334.0" font-size="13.33" letter-spacing="-0.2" text-anchor="middle">10</text>
<path d="M115.04,314.3 v4.67" stroke="#222" stroke-width="1.0"/>
<text x="115.04" y="334.0" font-size="13.33" letter-spacing="-0.2" text-anchor="middle">20</text>
<path d="M189.83,314.3 v4.67" stroke="#222" stroke-width="1.0"/>
<text x="189.83" y="334.0" font-size="13.33" letter-spacing="-0.2" text-anchor="middle">30</text>
<path d="M264.62,314.3 v4.67" stroke="#222" stroke-width="1.0"/>
<text x="264.62" y="334.0" font-size="13.33" letter-spacing="-0.2" text-anchor="middle">40</text>
<path d="M339.42,314.3 v4.67" stroke="#222" stroke-width="1.0"/>
<text x="339.42" y="334.0" font-size="13.33" letter-spacing="-0.2" text-anchor="middle">50</text>
<path d="M414.21,314.3 v4.67" stroke="#222" stroke-width="1.0"/>
<text x="414.21" y="334.0" font-size="13.33" letter-spacing="-0.2" text-anchor="middle">60</text>
<path d="M489.00,314.3 v4.67" stroke="#222" stroke-width="1.0"/>
<text x="489.00" y="334.0" font-size="13.33" letter-spacing="-0.2" text-anchor="middle">70</text>
<text x="264.6" y="357.3" font-size="20" text-anchor="middle">2θ (°)</text>
<text transform="translate(30.5,169.2) rotate(-90)" font-size="20" text-anchor="middle">Counts (a.u.)</text>
<text x="47.8" y="148.3" font-size="20">(a)</text>
<text x="47.8" y="259.0" font-size="20">(b)</text>
<text transform="translate(106.0,147.4) rotate(-90)" font-size="13.33">(111)</text>
<text transform="translate(195.7,121.0) rotate(-90)" font-size="13.33">(220)</text>
<text transform="translate(236.3,62.9) rotate(-90)" font-size="13.33">(311)</text>
<text transform="translate(292.2,142.7) rotate(-90)" font-size="13.33">(400)</text>
<text transform="translate(370.6,149.3) rotate(-90)" font-size="13.33">(422)</text>
<text transform="translate(398.2,132.3) rotate(-90)" font-size="13.33">(511)</text>
<text transform="translate(439.4,118.5) rotate(-90)" font-size="13.33">(440)</text>
<rect x="366.5" y="31.9" width="114.1" height="31.1" rx="2.7" fill="#fff" fill-opacity="0.8" stroke="#ccc" stroke-width="1.07"/>
<path d="M372.8,46.1 H409.4" stroke="#ff0000" stroke-width="2"/>
<text x="423.1" y="51.8" font-size="16.8" letter-spacing="0.5">Fe<tspan font-size="12.4" dy="3.2" dx="0.1">3</tspan><tspan dy="-3.2" dx="0.3" font-size="16.6">O</tspan><tspan font-size="12.4" dy="3.2" dx="0.2">4</tspan></text>
<g clip-path="url(#c2)" fill="none" stroke-linejoin="round">
<path d="M618.5,171.6 L619.0,171.6 L619.5,171.5 L620.0,171.5 L620.5,171.5 L621.0,171.5 L621.5,171.4 L622.0,171.4 L622.5,171.4 L623.0,171.4 L623.5,171.4 L624.0,171.3 L624.5,171.3 L625.0,171.3 L625.5,171.3 L626.0,171.3 L626.5,171.3 L627.0,171.2 L627.5,171.2 L628.0,171.2 L628.5,171.2 L629.0,171.2 L629.5,171.2 L630.0,171.2 L630.5,171.2 L631.0,171.2 L631.5,171.2 L632.0,171.2 L632.5,171.2 L633.0,171.2 L633.5,171.2 L634.0,171.2 L634.5,171.2 L635.0,171.2 L635.5,171.2 L636.0,171.2 L636.5,171.2 L637.0,171.2 L637.5,171.2 L638.0,171.2 L638.5,171.2 L639.0,171.2 L639.5,171.2 L640.0,171.3 L640.5,171.3 L641.0,171.3 L641.5,171.3 L642.0,171.3 L642.5,171.4 L643.0,171.4 L643.5,171.4 L644.0,171.5 L644.5,171.5 L645.0,171.5 L645.5,171.6 L646.0,171.6 L646.5,171.6 L647.0,171.7 L647.5,171.7 L648.0,171.8 L648.5,171.8 L649.0,171.8 L649.5,171.9 L650.0,171.9 L650.5,172.0 L651.0,172.0 L651.5,172.1 L652.0,172.1 L652.5,172.2 L653.0,172.3 L653.5,172.4 L654.0,172.4 L654.5,172.5 L655.0,172.6 L655.5,172.7 L656.0,172.8 L656.5,172.9 L657.0,173.0 L657.5,173.1 L658.0,173.2 L658.5,173.2 L659.0,173.3 L659.5,173.4 L660.0,173.5 L660.5,173.5 L661.0,173.6 L661.5,173.6 L662.0,173.6 L662.5,173.6 L663.0,173.5 L663.6,173.4 L664.1,173.3 L664.6,173.1 L665.1,172.9 L665.6,172.7 L666.1,172.4 L666.6,172.1 L667.1,171.7 L667.6,171.3 L668.1,170.9 L668.6,170.4 L669.1,169.9 L669.6,169.4 L670.1,168.8 L670.6,168.2 L671.1,167.6 L671.6,166.9 L672.1,166.2 L672.6,165.5 L673.1,164.8 L673.6,164.1 L674.1,163.4 L674.6,162.7 L675.1,162.0 L675.6,161.3 L676.1,160.6 L676.6,159.8 L677.1,159.1 L677.6,158.4 L678.1,157.7 L678.6,156.9 L679.1,156.2 L679.6,155.5 L680.1,154.7 L680.6,154.0 L681.1,153.2 L681.6,152.4 L682.1,151.7 L682.6,150.9 L683.1,150.1 L683.6,149.4 L684.1,148.6 L684.6,147.8 L685.1,147.1 L685.6,146.3 L686.1,145.6 L686.6,144.9 L687.1,144.3 L687.6,143.7 L688.1,143.0 L688.6,142.5 L689.1,141.9 L689.6,141.4 L690.1,140.9 L690.6,140.4 L691.1,140.0 L691.6,139.6 L692.1,139.3 L692.6,139.1 L693.1,138.9 L693.6,138.8 L694.1,138.7 L694.6,138.7 L695.1,138.7 L695.6,138.7 L696.1,138.7 L696.6,138.8 L697.1,138.9 L697.6,139.1 L698.1,139.4 L698.6,139.9 L699.1,140.4 L699.6,140.9 L700.1,141.4 L700.6,141.9 L701.1,142.4 L701.6,142.9 L702.1,143.5 L702.6,144.0 L703.1,144.5 L703.6,145.0 L704.1,145.5 L704.6,146.0 L705.1,146.5 L705.6,146.9 L706.1,147.4 L706.6,147.9 L707.1,148.3 L707.6,148.8 L708.1,149.3 L708.6,149.7 L709.1,150.2 L709.6,150.7 L710.1,151.1 L710.6,151.6 L711.1,152.1 L711.6,152.5 L712.1,153.0 L712.6,153.5 L713.1,153.9 L713.6,154.4 L714.1,154.9 L714.6,155.3 L715.1,155.8 L715.6,156.3 L716.1,156.7 L716.6,157.2 L717.1,157.7 L717.6,158.2 L718.1,158.6 L718.6,159.1 L719.1,159.6 L719.6,160.1 L720.1,160.5 L720.6,161.0 L721.1,161.5 L721.6,161.9 L722.1,162.4 L722.6,162.9 L723.1,163.4 L723.6,163.8 L724.1,164.3 L724.6,164.8 L725.1,165.2 L725.6,165.7 L726.1,166.2 L726.6,166.6 L727.1,167.1 L727.6,167.6 L728.1,168.0 L728.6,168.5 L729.1,168.9 L729.6,169.4 L730.1,169.8 L730.6,170.2 L731.1,170.6 L731.6,170.9 L732.1,171.0 L732.6,171.0 L733.1,171.0 L733.6,171.0 L734.1,171.0 L734.6,171.0 L735.1,170.9 L735.6,170.9 L736.1,170.9 L736.6,170.8 L737.1,170.7 L737.6,170.7 L738.1,170.6 L738.6,170.6 L739.1,170.5 L739.6,170.5 L740.1,170.4 L740.6,170.4 L741.1,170.3 L741.6,170.3 L742.1,170.3 L742.6,170.3 L743.1,170.3 L743.6,170.3 L744.1,170.3 L744.6,170.4 L745.1,170.4 L745.6,170.4 L746.1,170.4 L746.6,170.5 L747.1,170.5 L747.6,170.5 L748.1,170.6 L748.6,170.6 L749.1,170.6 L749.6,170.7 L750.1,170.7 L750.6,170.8 L751.1,170.8 L751.6,170.8 L752.1,170.9 L752.6,170.9 L753.1,170.9 L753.7,171.0 L754.2,171.0 L754.7,171.0 L755.2,171.1 L755.7,171.1 L756.2,171.1 L756.7,171.2 L757.2,171.2 L757.7,171.2 L758.2,171.3 L758.7,171.3 L759.2,171.3 L759.7,171.3 L760.2,171.4 L760.7,171.4 L761.2,171.4 L761.7,171.4 L762.2,171.4 L762.7,171.5 L763.2,171.5 L763.7,171.5 L764.2,171.5 L764.7,171.5 L765.2,171.6 L765.7,171.6 L766.2,171.6 L766.7,171.6 L767.2,171.7 L767.7,171.7 L768.2,171.7 L768.7,171.7 L769.2,171.7 L769.7,171.7 L770.2,171.8 L770.7,171.8 L771.2,171.8 L771.7,171.8 L772.2,171.8 L772.7,171.9 L773.2,171.9 L773.7,171.9 L774.2,171.9 L774.7,171.9 L775.2,171.9 L775.7,172.0 L776.2,172.0 L776.7,172.0 L777.2,172.0 L777.7,172.0 L778.2,172.0 L778.7,172.0 L779.2,172.0 L779.7,172.1 L780.2,172.1 L780.7,172.1 L781.2,172.1 L781.7,172.1 L782.2,172.1 L782.7,172.1 L783.2,172.1 L783.7,172.1 L784.2,172.1 L784.7,172.1 L785.2,172.1 L785.7,172.1 L786.2,172.1 L786.7,172.1 L787.2,172.1 L787.7,172.1 L788.2,172.2 L788.7,172.2 L789.2,172.2 L789.7,172.2 L790.2,172.2 L790.7,172.2 L791.2,172.2 L791.7,172.2 L792.2,172.2 L792.7,172.2 L793.2,172.2 L793.7,172.2 L794.2,172.2 L794.7,172.2 L795.2,172.2 L795.7,172.2 L796.2,172.2 L796.7,172.2 L797.2,172.2 L797.7,172.2 L798.2,172.2 L798.7,172.2 L799.2,172.2 L799.7,172.2 L800.2,172.2 L800.7,172.2 L801.2,172.2 L801.7,172.2 L802.2,172.2 L802.7,172.2 L803.2,172.2 L803.7,172.2 L804.2,172.2 L804.7,172.2 L805.2,172.2 L805.7,172.2 L806.2,172.2 L806.7,172.2 L807.2,172.2 L807.7,172.2 L808.2,172.2 L808.7,172.2 L809.2,172.2 L809.7,172.2 L810.2,172.2 L810.7,172.2 L811.2,172.2 L811.7,172.2 L812.2,172.2 L812.7,172.2 L813.2,172.2 L813.7,172.2 L814.2,172.2 L814.7,172.2 L815.2,172.2 L815.7,172.2 L816.2,172.2 L816.7,172.2 L817.2,172.2 L817.7,172.2 L818.2,172.2 L818.7,172.2 L819.2,172.2 L819.7,172.2 L820.2,172.2 L820.7,172.2 L821.2,172.2 L821.7,172.1 L822.2,172.1 L822.7,172.1 L823.2,172.1 L823.7,172.1 L824.2,172.1 L824.7,172.1 L825.2,172.1 L825.7,172.1 L826.2,172.1 L826.7,172.1 L827.2,172.1 L827.7,172.1 L828.2,172.1 L828.7,172.1 L829.2,172.1 L829.7,172.1 L830.2,172.1 L830.7,172.1 L831.2,172.1 L831.7,172.1 L832.2,172.1 L832.7,172.1 L833.2,172.1 L833.7,172.1 L834.2,172.1 L834.7,172.1 L835.2,172.1 L835.7,172.1 L836.2,172.1 L836.7,172.1 L837.2,172.1 L837.7,172.1 L838.2,172.1 L838.7,172.1 L839.2,172.1 L839.7,172.0 L840.2,172.0 L840.7,172.0 L841.2,172.0 L841.7,172.0 L842.2,172.0 L842.7,172.0 L843.2,172.0 L843.8,172.0 L844.3,172.0 L844.8,172.0 L845.3,172.0 L845.8,172.0 L846.3,172.0 L846.8,172.0 L847.3,172.0 L847.8,172.0 L848.3,172.0 L848.8,172.0 L849.3,172.0 L849.8,172.0 L850.3,172.0 L850.8,172.0 L851.3,172.0 L851.8,172.0 L852.3,172.0 L852.8,172.0 L853.3,172.0 L853.8,172.0 L854.3,172.0 L854.8,172.0 L855.3,172.0 L855.8,172.0 L856.3,171.9 L856.8,171.9 L857.3,171.9 L857.8,171.9 L858.3,171.9 L858.8,171.9 L859.3,171.9 L859.8,171.9 L860.3,171.9 L860.8,171.9 L861.3,171.9 L861.8,171.9 L862.3,171.9 L862.8,171.9 L863.3,171.9 L863.8,171.9 L864.3,171.9 L864.8,171.9 L865.3,171.9 L865.8,171.9 L866.3,171.9 L866.8,171.9 L867.3,171.9 L867.8,171.9 L868.3,171.9 L868.8,171.9 L869.3,171.9 L869.8,171.9 L870.3,171.9 L870.8,171.9 L871.3,171.8 L871.8,171.8 L872.3,171.8 L872.8,171.8 L873.3,171.8 L873.8,171.8 L874.3,171.8 L874.8,171.8 L875.3,171.8 L875.8,171.8 L876.3,171.8 L876.8,171.8 L877.3,171.8 L877.8,171.8 L878.3,171.8 L878.8,171.8 L879.3,171.8 L879.8,171.8 L880.3,171.7 L880.8,171.7 L881.3,171.7 L881.8,171.7 L882.3,171.7 L882.8,171.7 L883.3,171.7 L883.8,171.7 L884.3,171.7 L884.8,171.7 L885.3,171.7 L885.8,171.7 L886.3,171.7 L886.8,171.7 L887.3,171.6 L887.8,171.6 L888.3,171.6 L888.8,171.6 L889.3,171.6 L889.8,171.6 L890.3,171.6 L890.8,171.6 L891.3,171.6 L891.8,171.6 L892.3,171.6 L892.8,171.6 L893.3,171.6 L893.8,171.5 L894.3,171.5 L894.8,171.5 L895.3,171.5 L895.8,171.5 L896.3,171.5 L896.8,171.5 L897.3,171.5 L897.8,171.5 L898.3,171.5 L898.8,171.5 L899.3,171.5 L899.8,171.5 L900.3,171.4 L900.8,171.4 L901.3,171.4 L901.8,171.4 L902.3,171.4 L902.8,171.4 L903.3,171.4 L903.8,171.4 L904.3,171.3 L904.8,171.3 L905.3,171.1 L905.8,171.0 L906.3,170.8 L906.8,170.5 L907.3,170.2 L907.8,169.9 L908.3,169.4 L908.8,168.8 L909.3,168.1 L909.8,167.3 L910.3,166.5 L910.8,165.7 L911.3,165.0 L911.8,164.2 L912.3,163.6 L912.8,162.9 L913.3,162.3 L913.8,161.6 L914.3,161.1 L914.8,160.8 L915.3,160.8 L915.8,161.1 L916.3,161.5 L916.8,161.9 L917.3,162.4 L917.8,162.9 L918.3,163.3 L918.8,163.8 L919.3,164.2 L919.8,164.6 L920.3,165.0 L920.8,165.4 L921.3,165.8 L921.8,166.2 L922.3,166.5 L922.8,166.7 L923.3,166.9 L923.8,167.1 L924.3,167.2 L924.8,167.4 L925.3,167.5 L925.8,167.7 L926.3,167.8 L926.8,168.0 L927.3,168.1 L927.8,168.3 L928.3,168.4 L928.8,168.6 L929.3,168.7 L929.8,168.8 L930.3,169.0 L930.8,169.1 L931.3,169.3 L931.8,169.4 L932.3,169.5 L932.8,169.7 L933.3,169.8 L933.9,170.0 L934.4,170.1 L934.9,170.3 L935.4,170.4 L935.9,170.5 L936.4,170.7 L936.9,170.8 L937.4,171.0 L937.9,171.1 L938.4,171.2 L938.9,171.4 L939.4,171.5 L939.9,171.5 L940.4,171.4 L940.9,171.3 L941.4,171.1 L941.9,171.0 L942.4,170.8 L942.9,170.8 L943.4,170.8 L943.9,170.9 L944.4,171.0 L944.9,171.2 L945.4,171.4 L945.9,171.5 L946.4,171.6 L946.9,171.6 L947.4,171.6 L947.9,171.7 L948.4,171.7 L948.9,171.7 L949.4,171.7 L949.9,171.8 L950.4,171.8 L950.9,171.8 L951.4,171.8 L951.9,171.8 L952.4,171.9 L952.9,171.9 L953.4,171.9 L953.9,171.9 L954.4,171.9 L954.9,172.0 L955.4,172.0 L955.9,172.0 L956.4,172.0 L956.9,172.0 L957.4,172.1 L957.9,172.1 L958.4,172.1 L958.9,172.1 L959.4,172.1 L959.9,172.2 L960.4,172.2 L960.9,172.2 L961.4,172.2 L961.9,172.2 L962.4,172.3 L962.9,172.3 L963.4,172.3 L963.9,172.3 L964.4,172.3 L964.9,172.3 L965.4,172.3 L965.9,172.4 L966.4,172.4 L966.9,172.4 L967.4,172.4 L967.9,172.4 L968.4,172.4 L968.9,172.4 L969.4,172.4 L969.9,172.5 L970.4,172.5 L970.9,172.5 L971.4,172.5 L971.9,172.5 L972.4,172.5 L972.9,172.5 L973.4,172.5 L973.9,172.5 L974.4,172.5 L974.9,172.5 L975.4,172.5 L975.9,172.5 L976.4,172.6 L976.9,172.6 L977.4,172.6 L977.9,172.6 L978.4,172.6 L978.9,172.6 L979.4,172.6 L979.9,172.6 L980.4,172.6 L980.9,172.6 L981.4,172.6 L981.9,172.6 L982.4,172.6 L982.9,172.6 L983.4,172.6 L983.9,172.6 L984.4,172.6 L984.9,172.6 L985.4,172.6 L985.9,172.6 L986.4,172.7 L986.9,172.7 L987.4,172.7 L987.9,172.7 L988.4,172.7 L988.9,172.7 L989.4,172.7 L989.9,172.7 L990.4,172.7 L990.9,172.7 L991.4,172.8 L991.9,172.8 L992.4,172.9 L992.9,172.9 L993.4,173.0 L993.9,173.0 L994.4,173.1 L994.9,173.1 L995.4,173.2 L995.9,173.2 L996.4,173.3 L996.9,173.3 L997.4,173.3 L997.9,173.3 L998.4,173.4 L998.9,173.3 L999.4,173.3 L999.9,173.3 L1000.4,173.3 L1000.9,173.2 L1001.4,173.2 L1001.9,173.1 L1002.4,173.0 L1002.9,173.0 L1003.4,172.9 L1003.9,172.8 L1004.4,172.7 L1004.9,172.6 L1005.4,172.6 L1005.9,172.5 L1006.4,172.4 L1006.9,172.3 L1007.4,172.2 L1007.9,172.1 L1008.4,172.0 L1008.9,171.9 L1009.4,171.8 L1009.9,171.7 L1010.4,171.6 L1010.9,171.5 L1011.4,171.4 L1011.9,171.3 L1012.4,171.2 L1012.9,171.1 L1013.4,171.0 L1013.9,170.9 L1014.4,170.8 L1014.9,170.7 L1015.4,170.6 L1015.9,170.5 L1016.4,170.4 L1016.9,170.3 L1017.4,170.2 L1017.9,170.1 L1018.4,170.0 L1018.9,169.7 L1019.4,169.3 L1019.9,168.7 L1020.4,168.0 L1020.9,166.8 L1021.4,165.2 L1021.9,163.5 L1022.4,161.7 L1022.9,159.7 L1023.4,157.4 L1024.0,154.4 L1024.5,150.7 L1025.0,146.4 L1025.5,142.2 L1026.0,138.4 L1026.5,134.9 L1027.0,131.5 L1027.5,128.4 L1028.0,126.1 L1028.5,124.3 L1029.0,122.6 L1029.5,121.0 L1030.0,119.4 L1030.5,117.8 L1031.0,116.2 L1031.5,114.6 L1032.0,113.1 L1032.5,111.5 L1033.0,110.0 L1033.5,108.4 L1034.0,106.4 L1034.5,104.0 L1035.0,101.2 L1035.5,98.0 L1036.0,94.4 L1036.5,90.4 L1037.0,86.1 L1037.5,81.3 L1038.0,76.2 L1038.5,71.5 L1039.0,68.0 L1039.5,68.0 L1040.0,70.0 L1040.5,72.5 L1041.0,75.5 L1041.5,75.3 L1042.0,73.7 L1042.5,71.9 L1043.0,70.2 L1043.5,68.4 L1044.0,67.0 L1044.5,66.1 L1045.0,65.9 L1045.5,66.6 L1046.0,67.9 L1046.5,69.8 L1047.0,72.3 L1047.5,75.3 L1048.0,78.9 L1048.5,83.3 L1049.0,88.8 L1049.5,95.6 L1050.0,101.9 L1050.5,107.6 L1051.0,113.3 L1051.5,119.0 L1052.0,125.0 L1052.5,131.4 L1053.0,137.9 L1053.5,144.1 L1054.0,149.9 L1054.5,155.2 L1055.0,160.2 L1055.5,164.6 L1056.0,167.7 L1056.5,168.5 L1057.0,167.6 L1057.5,166.3 L1058.0,164.7 L1058.5,162.9 L1059.0,161.0 L1059.5,159.0 L1060.0,157.0 L1060.5,155.0 L1061.0,153.2 L1061.5,151.6 L1062.0,150.5 L1062.5,150.6 L1063.0,151.6 L1063.5,152.9 L1064.0,154.3 L1064.5,155.5 L1065.0,156.6 L1065.5,157.7 L1066.0,158.8 L1066.5,159.8 L1067.0,160.6 L1067.5,161.1 L1068.0,161.2 L1068.5,161.2" stroke="#6495ed" stroke-width="2.0"/>
<path d="M618.5,301.9 L619.0,301.9 L619.5,301.9 L620.0,302.0 L620.5,302.0 L621.0,302.0 L621.5,302.0 L622.0,302.0 L622.5,302.0 L623.0,302.1 L623.5,302.1 L624.0,302.1 L624.5,302.1 L625.0,302.1 L625.5,302.1 L626.0,302.1 L626.5,302.1 L627.0,302.1 L627.5,302.1 L628.0,302.1 L628.5,302.1 L629.0,302.1 L629.5,302.1 L630.0,302.1 L630.5,302.1 L631.0,302.1 L631.5,302.1 L632.0,302.1 L632.5,302.1 L633.0,302.1 L633.5,302.1 L634.0,302.1 L634.5,302.1 L635.0,302.1 L635.5,302.1 L636.0,302.1 L636.5,302.1 L637.0,302.0 L637.5,302.0 L638.0,302.0 L638.5,302.0 L639.0,302.0 L639.5,302.0 L640.0,302.0 L640.5,302.0 L641.0,302.0 L641.5,301.9 L642.0,301.9 L642.5,301.9 L643.0,301.9 L643.5,301.9 L644.0,301.9 L644.5,301.9 L645.0,301.9 L645.5,301.8 L646.0,301.8 L646.5,301.8 L647.0,301.8 L647.5,301.8 L648.0,301.8 L648.5,301.8 L649.0,301.7 L649.5,301.7 L650.0,301.7 L650.5,301.7 L651.0,301.7 L651.5,301.7 L652.0,301.7 L652.5,301.7 L653.0,301.7 L653.5,301.6 L654.0,301.6 L654.5,301.5 L655.0,301.5 L655.5,301.3 L656.0,301.2 L656.5,301.0 L657.0,300.8 L657.5,300.5 L658.0,300.2 L658.5,299.8 L659.0,299.5 L659.5,299.1 L660.0,298.8 L660.5,298.4 L661.0,298.1 L661.5,297.7 L662.0,297.3 L662.5,296.9 L663.0,296.6 L663.6,296.3 L664.1,296.0 L664.6,295.8 L665.1,295.6 L665.6,295.4 L666.1,295.2 L666.6,295.1 L667.1,295.0 L667.6,294.8 L668.1,294.7 L668.6,294.6 L669.1,294.5 L669.6,294.4 L670.1,294.3 L670.6,294.1 L671.1,294.0 L671.6,293.8 L672.1,293.7 L672.6,293.5 L673.1,293.3 L673.6,293.1 L674.1,292.9 L674.6,292.7 L675.1,292.5 L675.6,292.3 L676.1,292.1 L676.6,291.9 L677.1,291.7 L677.6,291.5 L678.1,291.3 L678.6,291.1 L679.1,290.9 L679.6,290.7 L680.1,290.5 L680.6,290.3 L681.1,290.1 L681.6,289.9 L682.1,289.7 L682.6,289.5 L683.1,289.3 L683.6,289.1 L684.1,288.9 L684.6,288.7 L685.1,288.5 L685.6,288.3 L686.1,288.2 L686.6,288.0 L687.1,287.9 L687.6,287.8 L688.1,287.7 L688.6,287.7 L689.1,287.6 L689.6,287.6 L690.1,287.6 L690.6,287.5 L691.1,287.5 L691.6,287.4 L692.1,287.4 L692.6,287.4 L693.1,287.4 L693.6,287.3 L694.1,287.3 L694.6,287.4 L695.1,287.4 L695.6,287.4 L696.1,287.5 L696.6,287.6 L697.1,287.6 L697.6,287.7 L698.1,287.8 L698.6,287.9 L699.1,288.0 L699.6,288.1 L700.1,288.2 L700.6,288.3 L701.1,288.4 L701.6,288.4 L702.1,288.5 L702.6,288.6 L703.1,288.7 L703.6,288.8 L704.1,288.9 L704.6,289.0 L705.1,289.0 L705.6,289.1 L706.1,289.2 L706.6,289.3 L707.1,289.3 L707.6,289.4 L708.1,289.4 L708.6,289.5 L709.1,289.5 L709.6,289.6 L710.1,289.7 L710.6,289.8 L711.1,289.8 L711.6,289.9 L712.1,290.0 L712.6,290.1 L713.1,290.2 L713.6,290.4 L714.1,290.5 L714.6,290.6 L715.1,290.7 L715.6,290.9 L716.1,291.0 L716.6,291.2 L717.1,291.3 L717.6,291.4 L718.1,291.6 L718.6,291.7 L719.1,291.9 L719.6,292.0 L720.1,292.1 L720.6,292.3 L721.1,292.4 L721.6,292.6 L722.1,292.7 L722.6,292.8 L723.1,293.0 L723.6,293.1 L724.1,293.3 L724.6,293.4 L725.1,293.5 L725.6,293.7 L726.1,293.8 L726.6,294.0 L727.1,294.1 L727.6,294.3 L728.1,294.4 L728.6,294.5 L729.1,294.7 L729.6,294.8 L730.1,295.0 L730.6,295.1 L731.1,295.2 L731.6,295.4 L732.1,295.5 L732.6,295.7 L733.1,295.8 L733.6,295.9 L734.1,296.0 L734.6,296.2 L735.1,296.3 L735.6,296.4 L736.1,296.5 L736.6,296.6 L737.1,296.7 L737.6,296.8 L738.1,296.9 L738.6,297.0 L739.1,297.1 L739.6,297.2 L740.1,297.3 L740.6,297.3 L741.1,297.4 L741.6,297.5 L742.1,297.6 L742.6,297.7 L743.1,297.7 L743.6,297.8 L744.1,297.9 L744.6,297.9 L745.1,298.0 L745.6,298.0 L746.1,298.1 L746.6,298.1 L747.1,298.2 L747.6,298.2 L748.1,298.3 L748.6,298.3 L749.1,298.3 L749.6,298.4 L750.1,298.4 L750.6,298.5 L751.1,298.5 L751.6,298.6 L752.1,298.7 L752.6,298.8 L753.1,298.9 L753.7,299.0 L754.2,299.0 L754.7,299.1 L755.2,299.2 L755.7,299.3 L756.2,299.4 L756.7,299.6 L757.2,299.7 L757.7,299.8 L758.2,299.9 L758.7,300.0 L759.2,300.1 L759.7,300.2 L760.2,300.4 L760.7,300.5 L761.2,300.7 L761.7,300.8 L762.2,301.0 L762.7,301.1 L763.2,301.3 L763.7,301.4 L764.2,301.5 L764.7,301.6 L765.2,301.7 L765.7,301.8 L766.2,301.8 L766.7,301.9 L767.2,301.9 L767.7,302.0 L768.2,302.0 L768.7,302.0 L769.2,302.1 L769.7,302.1 L770.2,302.1 L770.7,302.1 L771.2,302.1 L771.7,302.1 L772.2,302.2 L772.7,302.2 L773.2,302.2 L773.7,302.2 L774.2,302.2 L774.7,302.2 L775.2,302.2 L775.7,302.2 L776.2,302.3 L776.7,302.3 L777.2,302.3 L777.7,302.3 L778.2,302.3 L778.7,302.3 L779.2,302.3 L779.7,302.4 L780.2,302.4 L780.7,302.4 L781.2,302.4 L781.7,302.4 L782.2,302.4 L782.7,302.4 L783.2,302.4 L783.7,302.5 L784.2,302.5 L784.7,302.5 L785.2,302.5 L785.7,302.5 L786.2,302.5 L786.7,302.5 L787.2,302.5 L787.7,302.5 L788.2,302.6 L788.7,302.6 L789.2,302.6 L789.7,302.6 L790.2,302.6 L790.7,302.6 L791.2,302.6 L791.7,302.6 L792.2,302.6 L792.7,302.6 L793.2,302.6 L793.7,302.6 L794.2,302.6 L794.7,302.6 L795.2,302.6 L795.7,302.6 L796.2,302.6 L796.7,302.6 L797.2,302.6 L797.7,302.6 L798.2,302.6 L798.7,302.6 L799.2,302.6 L799.7,302.6 L800.2,302.6 L800.7,302.6 L801.2,302.6 L801.7,302.6 L802.2,302.5 L802.7,302.5 L803.2,302.5 L803.7,302.5 L804.2,302.5 L804.7,302.5 L805.2,302.5 L805.7,302.5 L806.2,302.5 L806.7,302.5 L807.2,302.5 L807.7,302.5 L808.2,302.4 L808.7,302.4 L809.2,302.4 L809.7,302.4 L810.2,302.4 L810.7,302.4 L811.2,302.4 L811.7,302.3 L812.2,302.3 L812.7,302.3 L813.2,302.3 L813.7,302.2 L814.2,302.2 L814.7,302.2 L815.2,302.2 L815.7,302.1 L816.2,302.1 L816.7,302.1 L817.2,302.1 L817.7,302.0 L818.2,302.0 L818.7,302.0 L819.2,302.0 L819.7,301.9 L820.2,301.9 L820.7,301.9 L821.2,301.9 L821.7,301.9 L822.2,301.9 L822.7,301.9 L823.2,301.9 L823.7,301.9 L824.2,301.9 L824.7,301.9 L825.2,301.9 L825.7,301.9 L826.2,301.9 L826.7,301.9 L827.2,301.9 L827.7,301.9 L828.2,301.9 L828.7,301.9 L829.2,301.9 L829.7,301.9 L830.2,301.9 L830.7,301.9 L831.2,301.9 L831.7,301.9 L832.2,301.9 L832.7,301.9 L833.2,301.9 L833.7,301.9 L834.2,301.9 L834.7,301.9 L835.2,301.9 L835.7,301.9 L836.2,301.9 L836.7,302.0 L837.2,302.0 L837.7,302.0 L838.2,302.0 L838.7,302.0 L839.2,302.0 L839.7,302.0 L840.2,302.0 L840.7,302.0 L841.2,302.0 L841.7,302.0 L842.2,302.1 L842.7,302.1 L843.2,302.1 L843.8,302.1 L844.3,302.1 L844.8,302.1 L845.3,302.1 L845.8,302.1 L846.3,302.1 L846.8,302.1 L847.3,302.2 L847.8,302.2 L848.3,302.2 L848.8,302.2 L849.3,302.2 L849.8,302.2 L850.3,302.2 L850.8,302.2 L851.3,302.2 L851.8,302.3 L852.3,302.3 L852.8,302.3 L853.3,302.3 L853.8,302.3 L854.3,302.3 L854.8,302.3 L855.3,302.3 L855.8,302.3 L856.3,302.3 L856.8,302.3 L857.3,302.3 L857.8,302.4 L858.3,302.4 L858.8,302.4 L859.3,302.4 L859.8,302.4 L860.3,302.4 L860.8,302.4 L861.3,302.4 L861.8,302.4 L862.3,302.4 L862.8,302.4 L863.3,302.4 L863.8,302.4 L864.3,302.4 L864.8,302.4 L865.3,302.4 L865.8,302.4 L866.3,302.4 L866.8,302.4 L867.3,302.4 L867.8,302.4 L868.3,302.4 L868.8,302.4 L869.3,302.4 L869.8,302.4 L870.3,302.4 L870.8,302.4 L871.3,302.4 L871.8,302.4 L872.3,302.4 L872.8,302.4 L873.3,302.4 L873.8,302.4 L874.3,302.3 L874.8,302.3 L875.3,302.3 L875.8,302.3 L876.3,302.3 L876.8,302.3 L877.3,302.3 L877.8,302.3 L878.3,302.3 L878.8,302.3 L879.3,302.3 L879.8,302.3 L880.3,302.3 L880.8,302.3 L881.3,302.2 L881.8,302.2 L882.3,302.2 L882.8,302.2 L883.3,302.2 L883.8,302.2 L884.3,302.2 L884.8,302.2 L885.3,302.2 L885.8,302.2 L886.3,302.1 L886.8,302.1 L887.3,302.1 L887.8,302.1 L888.3,302.1 L888.8,302.1 L889.3,302.1 L889.8,302.1 L890.3,302.1 L890.8,302.0 L891.3,302.0 L891.8,302.0 L892.3,302.0 L892.8,302.0 L893.3,302.0 L893.8,302.0 L894.3,302.0 L894.8,302.0 L895.3,301.9 L895.8,301.9 L896.3,301.9 L896.8,301.9 L897.3,301.9 L897.8,301.9 L898.3,301.9 L898.8,301.9 L899.3,301.8 L899.8,301.8 L900.3,301.8 L900.8,301.8 L901.3,301.7 L901.8,301.7 L902.3,301.6 L902.8,301.6 L903.3,301.5 L903.8,301.5 L904.3,301.4 L904.8,301.3 L905.3,301.2 L905.8,301.0 L906.3,300.9 L906.8,300.8 L907.3,300.6 L907.8,300.5 L908.3,300.3 L908.8,300.1 L909.3,300.0 L909.8,299.8 L910.3,299.7 L910.8,299.5 L911.3,299.3 L911.8,299.1 L912.3,298.9 L912.8,298.7 L913.3,298.6 L913.8,298.5 L914.3,298.5 L914.8,298.7 L915.3,298.9 L915.8,299.2 L916.3,299.5 L916.8,299.8 L917.3,300.1 L917.8,300.4 L918.3,300.7 L918.8,300.9 L919.3,301.2 L919.8,301.5 L920.3,301.7 L920.8,301.8 L921.3,301.7 L921.8,301.6 L922.3,301.3 L922.8,301.1 L923.3,300.9 L923.8,300.9 L924.3,301.0 L924.8,301.0 L925.3,301.1 L925.8,301.3 L926.3,301.4 L926.8,301.5 L927.3,301.6 L927.8,301.7 L928.3,301.8 L928.8,301.9 L929.3,301.9 L929.8,301.9 L930.3,301.9 L930.8,302.0 L931.3,302.0 L931.8,302.0 L932.3,302.0 L932.8,302.0 L933.3,302.0 L933.9,302.0 L934.4,302.0 L934.9,302.0 L935.4,302.0 L935.9,302.0 L936.4,302.0 L936.9,302.0 L937.4,302.0 L937.9,302.0 L938.4,302.0 L938.9,302.0 L939.4,301.9 L939.9,301.9 L940.4,301.9 L940.9,301.9 L941.4,301.8 L941.9,301.8 L942.4,301.7 L942.9,301.7 L943.4,301.6 L943.9,301.6 L944.4,301.5 L944.9,301.5 L945.4,301.4 L945.9,301.4 L946.4,301.3 L946.9,301.2 L947.4,301.2 L947.9,301.1 L948.4,301.0 L948.9,301.0 L949.4,300.9 L949.9,300.8 L950.4,300.7 L950.9,300.6 L951.4,300.4 L951.9,300.3 L952.4,300.1 L952.9,299.9 L953.4,299.7 L953.9,299.6 L954.4,299.4 L954.9,299.2 L955.4,298.9 L955.9,298.4 L956.4,297.9 L956.9,297.2 L957.4,296.6 L957.9,295.8 L958.4,295.1 L958.9,294.3 L959.4,293.4 L959.9,292.2 L960.4,290.7 L960.9,288.8 L961.4,286.4 L961.9,283.5 L962.4,280.2 L962.9,276.6 L963.4,272.8 L963.9,268.7 L964.4,264.5 L964.9,260.5 L965.4,256.8 L965.9,253.5 L966.4,251.1 L966.9,249.5 L967.4,248.1 L967.9,246.8 L968.4,245.6 L968.9,244.5 L969.4,243.4 L969.9,242.4 L970.4,241.4 L970.9,240.5 L971.4,239.5 L971.9,238.6 L972.4,237.7 L972.9,236.7 L973.4,235.7 L973.9,234.7 L974.4,233.6 L974.9,232.4 L975.4,231.0 L975.9,229.5 L976.4,227.8 L976.9,226.0 L977.4,224.0 L977.9,221.5 L978.4,218.6 L978.9,215.5 L979.4,212.5 L979.9,209.1 L980.4,204.7 L980.9,200.3 L981.4,196.7 L981.9,194.8 L982.4,195.7 L982.9,198.8 L983.4,202.9 L983.9,207.1 L984.4,211.0 L984.9,215.1 L985.4,219.4 L985.9,223.9 L986.4,228.9 L986.9,234.1 L987.4,239.4 L987.9,244.7 L988.4,249.8 L988.9,254.6 L989.4,259.3 L989.9,263.7 L990.4,267.9 L990.9,271.9 L991.4,275.7 L991.9,278.8 L992.4,281.5 L992.9,283.7 L993.4,285.6 L993.9,287.0 L994.4,287.8 L994.9,287.7 L995.4,286.9 L995.9,286.0 L996.4,285.3 L996.9,284.8 L997.4,284.3 L997.9,283.9 L998.4,283.7 L998.9,283.7 L999.4,284.0 L999.9,284.6 L1000.4,285.3 L1000.9,286.2 L1001.4,287.2 L1001.9,288.2 L1002.4,289.3 L1002.9,290.4 L1003.4,291.4 L1003.9,292.4 L1004.4,293.2 L1004.9,294.1 L1005.4,294.9 L1005.9,295.6 L1006.4,296.3 L1006.9,297.1 L1007.4,297.8 L1007.9,298.4 L1008.4,299.1 L1008.9,299.7 L1009.4,300.3 L1009.9,300.9 L1010.4,301.3 L1010.9,301.6 L1011.4,301.9 L1011.9,302.0 L1012.4,301.9 L1012.9,301.5 L1013.4,300.9 L1013.9,300.2 L1014.4,299.4 L1014.9,298.5 L1015.4,297.5 L1015.9,296.5 L1016.4,295.6 L1016.9,295.0 L1017.4,294.6 L1017.9,294.5 L1018.4,294.7 L1018.9,295.1 L1019.4,295.6 L1019.9,296.3 L1020.4,297.0 L1020.9,297.9 L1021.4,299.1 L1021.9,300.2 L1022.4,301.1 L1022.9,301.3 L1023.4,301.2 L1024.0,301.0 L1024.5,300.7 L1025.0,300.5 L1025.5,300.2 L1026.0,299.9 L1026.5,299.6 L1027.0,299.4 L1027.5,299.2 L1028.0,299.1 L1028.5,298.9 L1029.0,298.8 L1029.5,298.7 L1030.0,298.5 L1030.5,298.4 L1031.0,298.2 L1031.5,298.0 L1032.0,297.7 L1032.5,297.5 L1033.0,297.1 L1033.5,296.7 L1034.0,296.2 L1034.5,295.6 L1035.0,295.0 L1035.5,294.4 L1036.0,293.8 L1036.5,293.2 L1037.0,292.6 L1037.5,292.0 L1038.0,291.3 L1038.5,290.7 L1039.0,290.1 L1039.5,289.7 L1040.0,289.4 L1040.5,289.3 L1041.0,289.3 L1041.5,289.4 L1042.0,289.4 L1042.5,289.4 L1043.0,289.4 L1043.5,289.4 L1044.0,289.4 L1044.5,289.5 L1045.0,289.6 L1045.5,289.9 L1046.0,290.3 L1046.5,290.9 L1047.0,291.6 L1047.5,292.3 L1048.0,293.2 L1048.5,294.2 L1049.0,295.4 L1049.5,296.5 L1050.0,297.6 L1050.5,298.6 L1051.0,299.4 L1051.5,300.0 L1052.0,300.5 L1052.5,300.8 L1053.0,301.1 L1053.5,301.2 L1054.0,301.1 L1054.5,300.4 L1055.0,298.6 L1055.5,295.7 L1056.0,292.3 L1056.5,288.8 L1057.0,285.2 L1057.5,281.6 L1058.0,278.0 L1058.5,274.4 L1059.0,271.7 L1059.5,270.5 L1060.0,270.7 L1060.5,271.7 L1061.0,273.4 L1061.5,275.5 L1062.0,277.7 L1062.5,279.9 L1063.0,282.2 L1063.5,284.8 L1064.0,287.3 L1064.5,289.9 L1065.0,292.2 L1065.5,294.2 L1066.0,296.1 L1066.5,297.8 L1067.0,299.2 L1067.5,300.6 L1068.0,301.8 L1068.5,303.0" stroke="#f4a460" stroke-width="2.0"/>
</g>
<text transform="translate(921.2,138.9) rotate(-90)" font-size="13.33" letter-spacing="-0.3">1624</text>
<path d="M915.5,141.9 L915.5,154.8" stroke="#000" stroke-width="1.25" fill="none"/>
<text transform="translate(1066.2,122.4) rotate(-90)" font-size="13.33" letter-spacing="-0.3">444</text>
<path d="M1062.0,126.9 L1062.0,144.0" stroke="#000" stroke-width="1.25" fill="none"/>
<text transform="translate(920.1,277.9) rotate(-90)" font-size="13.33" letter-spacing="-0.3">1637</text>
<path d="M914.2,282.3 L913.6,295.3" stroke="#000" stroke-width="1.25" fill="none"/>
<text transform="translate(1004.6,259.4) rotate(-90)" font-size="13.33" letter-spacing="-0.3">956</text>
<path d="M999.3,263.9 L998.2,281.5" stroke="#000" stroke-width="1.25" fill="none"/>
<text transform="translate(1022.9,268.4) rotate(-90)" font-size="13.33" letter-spacing="-0.3">802</text>
<path d="M1017.4,273.4 L1016.8,290.3" stroke="#000" stroke-width="1.25" fill="none"/>
<text transform="translate(1040.3,233.5) rotate(-90)" font-size="13.33" letter-spacing="-0.3">631</text>
<path d="M1036.8,238.3 L1037.6,287.9" stroke="#000" stroke-width="1.25" fill="none"/>
<text transform="translate(1052.2,265.9) rotate(-90)" font-size="13.33" letter-spacing="-0.3">590</text>
<path d="M1045.1,270.5 L1043.4,287.9" stroke="#000" stroke-width="1.25" fill="none"/>
<text transform="translate(1065.1,219.9) rotate(-90)" font-size="13.33" letter-spacing="-0.3">466</text>
<path d="M1060.4,224.7 L1059.3,268.3" stroke="#000" stroke-width="1.25" fill="none"/>
<text x="1038.6" y="38.75" font-size="13.33" letter-spacing="-0.3">586</text>
<path d="M1045.2,46.9 L1044.1,63.1" stroke="#000" stroke-width="1.25" fill="none"/>
<text x="993.8" y="54.2" font-size="13.33" letter-spacing="-0.3">633</text>
<path d="M1023.9,52.8 Q1034.5,54 1037.9,63.1" stroke="#000" stroke-width="1.25" fill="none"/>
<text x="918.9" y="187.6" font-size="13.33" letter-spacing="-0.3">1091</text>
<path d="M957.2,184.5 Q974,186 980.4,193" stroke="#000" stroke-width="1.25" fill="none"/>
<rect x="619.45" y="23.0" width="448.75" height="291.3" fill="none" stroke="#222" stroke-width="1.0"/>
<path d="M619.45,314.3 v4.67" stroke="#222" stroke-width="1.0"/>
<text x="619.45" y="334.0" font-size="13.33" letter-spacing="-0.2" text-anchor="middle">4000</text>
<path d="M681.78,314.3 v4.67" stroke="#222" stroke-width="1.0"/>
<text x="681.78" y="334.0" font-size="13.33" letter-spacing="-0.2" text-anchor="middle">3500</text>
<path d="M744.10,314.3 v4.67" stroke="#222" stroke-width="1.0"/>
<text x="744.10" y="334.0" font-size="13.33" letter-spacing="-0.2" text-anchor="middle">3000</text>
<path d="M806.43,314.3 v4.67" stroke="#222" stroke-width="1.0"/>
<text x="806.43" y="334.0" font-size="13.33" letter-spacing="-0.2" text-anchor="middle">2500</text>
<path d="M868.76,314.3 v4.67" stroke="#222" stroke-width="1.0"/>
<text x="868.76" y="334.0" font-size="13.33" letter-spacing="-0.2" text-anchor="middle">2000</text>
<path d="M931.08,314.3 v4.67" stroke="#222" stroke-width="1.0"/>
<text x="931.08" y="334.0" font-size="13.33" letter-spacing="-0.2" text-anchor="middle">1500</text>
<path d="M993.41,314.3 v4.67" stroke="#222" stroke-width="1.0"/>
<text x="993.41" y="334.0" font-size="13.33" letter-spacing="-0.2" text-anchor="middle">1000</text>
<path d="M1055.73,314.3 v4.67" stroke="#222" stroke-width="1.0"/>
<text x="1055.73" y="334.0" font-size="13.33" letter-spacing="-0.2" text-anchor="middle">500</text>
<text x="844.9" y="359.5" font-size="20" text-anchor="middle">wavenumber (cm<tspan font-size="14" dy="-7.6" dx="0.8">−1</tspan><tspan dy="7.6" dx="0.4">)</tspan></text>
<text transform="translate(609.4,169.2) rotate(-90)" font-size="20" text-anchor="middle">Absorbance (a.u.)</text>
<text x="625.55" y="152.1" font-size="20">(c)</text>
<text x="625.55" y="281.8" font-size="20">(d)</text>
</svg>
</body></html>
